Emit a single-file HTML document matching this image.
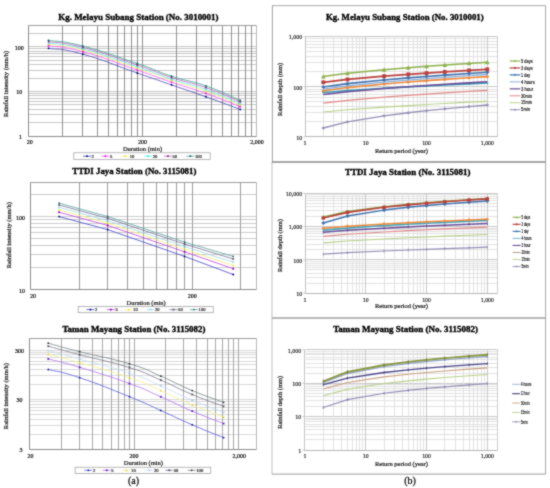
<!DOCTYPE html>
<html><head><meta charset="utf-8"><title>IDF curves</title>
<style>html,body{margin:0;padding:0;background:#fff;width:550px;height:488px;overflow:hidden}svg{display:block}</style>
</head><body><div id="w">
<svg width="550" height="488" viewBox="0 0 550 488">
<defs><filter id="bl" filterUnits="userSpaceOnUse" x="0" y="0" width="550" height="488" color-interpolation-filters="sRGB"><feConvolveMatrix order="3" kernelMatrix="1 2 1 2 12 2 1 2 1" divisor="24" edgeMode="duplicate"/></filter></defs>
<g filter="url(#bl)">
<rect x="0" y="0" width="550" height="488" fill="#ffffff"/>
<line x1="28.5" y1="122.5" x2="256.5" y2="122.5" stroke="#c8c8c8" stroke-width="1" />
<line x1="28.5" y1="114.5" x2="256.5" y2="114.5" stroke="#c8c8c8" stroke-width="1" />
<line x1="28.5" y1="109.5" x2="256.5" y2="109.5" stroke="#c8c8c8" stroke-width="1" />
<line x1="28.5" y1="104.5" x2="256.5" y2="104.5" stroke="#c8c8c8" stroke-width="1" />
<line x1="28.5" y1="101.5" x2="256.5" y2="101.5" stroke="#c8c8c8" stroke-width="1" />
<line x1="28.5" y1="98.5" x2="256.5" y2="98.5" stroke="#c8c8c8" stroke-width="1" />
<line x1="28.5" y1="95.5" x2="256.5" y2="95.5" stroke="#c8c8c8" stroke-width="1" />
<line x1="28.5" y1="93.5" x2="256.5" y2="93.5" stroke="#c8c8c8" stroke-width="1" />
<line x1="28.5" y1="91.5" x2="256.5" y2="91.5" stroke="#c8c8c8" stroke-width="1" />
<line x1="28.5" y1="78.5" x2="256.5" y2="78.5" stroke="#c8c8c8" stroke-width="1" />
<line x1="28.5" y1="70.5" x2="256.5" y2="70.5" stroke="#c8c8c8" stroke-width="1" />
<line x1="28.5" y1="64.5" x2="256.5" y2="64.5" stroke="#c8c8c8" stroke-width="1" />
<line x1="28.5" y1="60.5" x2="256.5" y2="60.5" stroke="#c8c8c8" stroke-width="1" />
<line x1="28.5" y1="56.5" x2="256.5" y2="56.5" stroke="#c8c8c8" stroke-width="1" />
<line x1="28.5" y1="53.5" x2="256.5" y2="53.5" stroke="#c8c8c8" stroke-width="1" />
<line x1="28.5" y1="51.5" x2="256.5" y2="51.5" stroke="#c8c8c8" stroke-width="1" />
<line x1="28.5" y1="48.5" x2="256.5" y2="48.5" stroke="#c8c8c8" stroke-width="1" />
<line x1="28.5" y1="46.5" x2="256.5" y2="46.5" stroke="#c8c8c8" stroke-width="1" />
<line x1="28.5" y1="33.5" x2="256.5" y2="33.5" stroke="#c8c8c8" stroke-width="1" />
<line x1="62.5" y1="25.5" x2="62.5" y2="136.5" stroke="#909090" stroke-width="1" />
<line x1="82.5" y1="25.5" x2="82.5" y2="136.5" stroke="#909090" stroke-width="1" />
<line x1="97.5" y1="25.5" x2="97.5" y2="136.5" stroke="#909090" stroke-width="1" />
<line x1="108.5" y1="25.5" x2="108.5" y2="136.5" stroke="#909090" stroke-width="1" />
<line x1="117.5" y1="25.5" x2="117.5" y2="136.5" stroke="#909090" stroke-width="1" />
<line x1="124.5" y1="25.5" x2="124.5" y2="136.5" stroke="#909090" stroke-width="1" />
<line x1="131.5" y1="25.5" x2="131.5" y2="136.5" stroke="#909090" stroke-width="1" />
<line x1="137.5" y1="25.5" x2="137.5" y2="136.5" stroke="#909090" stroke-width="1" />
<line x1="142.5" y1="25.5" x2="142.5" y2="136.5" stroke="#909090" stroke-width="1" />
<line x1="176.5" y1="25.5" x2="176.5" y2="136.5" stroke="#909090" stroke-width="1" />
<line x1="196.5" y1="25.5" x2="196.5" y2="136.5" stroke="#909090" stroke-width="1" />
<line x1="211.5" y1="25.5" x2="211.5" y2="136.5" stroke="#909090" stroke-width="1" />
<line x1="222.5" y1="25.5" x2="222.5" y2="136.5" stroke="#909090" stroke-width="1" />
<line x1="231.5" y1="25.5" x2="231.5" y2="136.5" stroke="#909090" stroke-width="1" />
<line x1="238.5" y1="25.5" x2="238.5" y2="136.5" stroke="#909090" stroke-width="1" />
<line x1="245.5" y1="25.5" x2="245.5" y2="136.5" stroke="#909090" stroke-width="1" />
<line x1="251.5" y1="25.5" x2="251.5" y2="136.5" stroke="#909090" stroke-width="1" />
<line x1="28.5" y1="25.5" x2="256.5" y2="25.5" stroke="#9c9c9c" stroke-width="1" />
<line x1="256.5" y1="25.5" x2="256.5" y2="136.5" stroke="#b8b8b8" stroke-width="1" />
<line x1="28.5" y1="25.5" x2="28.5" y2="136.5" stroke="#8c8c8c" stroke-width="1" />
<line x1="28.5" y1="136.5" x2="256.5" y2="136.5" stroke="#8c8c8c" stroke-width="1" />
<text x="19.35" y="49.5" font-size="6" text-anchor="middle" font-weight="normal" fill="#111" font-family="'Liberation Serif', serif" stroke="#111" stroke-width="0.22">100</text>
<text x="19.35" y="94.4" font-size="6" text-anchor="middle" font-weight="normal" fill="#111" font-family="'Liberation Serif', serif" stroke="#111" stroke-width="0.22">10</text>
<text x="20.4" y="139.2" font-size="6" text-anchor="middle" font-weight="normal" fill="#111" font-family="'Liberation Serif', serif" stroke="#111" stroke-width="0.22">1</text>
<text x="29.75" y="144.1" font-size="6" text-anchor="middle" font-weight="normal" fill="#111" font-family="'Liberation Serif', serif" stroke="#111" stroke-width="0.22">20</text>
<text x="142.6" y="143.9" font-size="6" text-anchor="middle" font-weight="normal" fill="#111" font-family="'Liberation Serif', serif" stroke="#111" stroke-width="0.22">200</text>
<text x="257" y="144.1" font-size="6" text-anchor="middle" font-weight="normal" fill="#111" font-family="'Liberation Serif', serif" stroke="#111" stroke-width="0.22">2,000</text>
<text x="142.5" y="150.6" font-size="6.5" text-anchor="middle" font-weight="normal" fill="#222" font-family="'Liberation Serif', serif"  stroke="#222" stroke-width="0.22">Duration (min)</text>
<text x="8.1" y="83.9" font-size="6.5" text-anchor="middle" font-weight="normal" fill="#222" font-family="'Liberation Serif', serif" transform="rotate(-90 8.1 83.9)" stroke="#222" stroke-width="0.22">Rainfall intensity (mm/h)</text>
<text x="138.4" y="20.2" font-size="9" text-anchor="middle" font-weight="bold" fill="#000" font-family="'Liberation Serif', serif"  stroke="#000" stroke-width="0.35" textLength="160.3" lengthAdjust="spacingAndGlyphs">Kg. Melayu Subang Station (No. 3010001)</text>
<path d="M48.57,48.3 C57.73,49.87 59.24,47.61 82.89,54.2 C106.55,60.79 113.63,64.81 137.28,73 C160.94,81.19 153.3,78.55 171.6,84.9 C189.9,91.25 187.62,90.27 205.92,96.8 C224.22,103.33 231.08,106.04 240.24,109.4" fill="none" stroke="#4848b8" stroke-width="0.8"/>
<path d="M48.57,47.13 L49.74,48.3 L48.57,49.47 L47.4,48.3Z" fill="#000080"/>
<path d="M82.89,53.03 L84.06,54.2 L82.89,55.37 L81.72,54.2Z" fill="#000080"/>
<path d="M137.28,71.83 L138.45,73 L137.28,74.17 L136.11,73Z" fill="#000080"/>
<path d="M171.6,83.73 L172.77,84.9 L171.6,86.07 L170.43,84.9Z" fill="#000080"/>
<path d="M205.92,95.63 L207.09,96.8 L205.92,97.97 L204.75,96.8Z" fill="#000080"/>
<path d="M240.24,108.23 L241.41,109.4 L240.24,110.57 L239.07,109.4Z" fill="#000080"/>
<path d="M48.57,45.85 C57.73,47.41 59.24,45.23 82.89,51.69 C106.55,58.14 113.63,61.92 137.28,70.06 C160.94,78.19 153.3,75.97 171.6,82.2 C189.9,88.43 187.62,86.92 205.92,93.42 C224.22,99.92 231.08,103.07 240.24,106.58" fill="none" stroke="#ff58ff" stroke-width="0.8"/>
<rect x="47.67" y="44.95" width="1.8" height="1.8" fill="#ff00ff"/>
<rect x="81.99" y="50.79" width="1.8" height="1.8" fill="#ff00ff"/>
<rect x="136.38" y="69.16" width="1.8" height="1.8" fill="#ff00ff"/>
<rect x="170.7" y="81.3" width="1.8" height="1.8" fill="#ff00ff"/>
<rect x="205.02" y="92.52" width="1.8" height="1.8" fill="#ff00ff"/>
<rect x="239.34" y="105.68" width="1.8" height="1.8" fill="#ff00ff"/>
<path d="M48.57,44.35 C57.73,45.9 59.24,43.78 82.89,50.15 C106.55,56.52 113.63,60.14 137.28,68.25 C160.94,76.36 153.3,74.39 171.6,80.55 C189.9,86.71 187.62,84.87 205.92,91.35 C224.22,97.83 231.08,101.25 240.24,104.85" fill="none" stroke="#f2f080" stroke-width="0.8"/>
<path d="M48.57,43.18 L49.65,45.25 L47.49,45.25Z" fill="#e8e000"/>
<path d="M82.89,48.98 L83.97,51.05 L81.81,51.05Z" fill="#e8e000"/>
<path d="M137.28,67.08 L138.36,69.15 L136.2,69.15Z" fill="#e8e000"/>
<path d="M171.6,79.38 L172.68,81.45 L170.52,81.45Z" fill="#e8e000"/>
<path d="M205.92,90.18 L207,92.25 L204.84,92.25Z" fill="#e8e000"/>
<path d="M240.24,103.68 L241.32,105.75 L239.16,105.75Z" fill="#e8e000"/>
<path d="M48.57,43.09 C57.73,44.62 59.24,42.55 82.89,48.85 C106.55,55.16 113.63,58.65 137.28,66.73 C160.94,74.81 153.3,73.06 171.6,79.16 C189.9,85.26 187.62,83.14 205.92,89.61 C224.22,96.07 231.08,99.72 240.24,103.39" fill="none" stroke="#68f0e8" stroke-width="0.8"/>
<path d="M47.67,42.19 L49.47,43.99 M47.67,43.99 L49.47,42.19" stroke="#00e0e0" stroke-width="0.6"/>
<path d="M81.99,47.95 L83.79,49.75 M81.99,49.75 L83.79,47.95" stroke="#00e0e0" stroke-width="0.6"/>
<path d="M136.38,65.83 L138.18,67.63 M136.38,67.63 L138.18,65.83" stroke="#00e0e0" stroke-width="0.6"/>
<path d="M170.7,78.26 L172.5,80.06 M170.7,80.06 L172.5,78.26" stroke="#00e0e0" stroke-width="0.6"/>
<path d="M205.02,88.71 L206.82,90.51 M205.02,90.51 L206.82,88.71" stroke="#00e0e0" stroke-width="0.6"/>
<path d="M239.34,102.49 L241.14,104.29 M239.34,104.29 L241.14,102.49" stroke="#00e0e0" stroke-width="0.6"/>
<path d="M48.57,41.66 C57.73,43.19 59.24,41.17 82.89,47.4 C106.55,53.62 113.63,56.97 137.28,65.02 C160.94,73.07 153.3,71.56 171.6,77.59 C189.9,83.63 187.62,81.2 205.92,87.64 C224.22,94.09 231.08,97.99 240.24,101.76" fill="none" stroke="#c060c0" stroke-width="0.8"/>
<path d="M47.67,40.76 L49.47,42.56 M47.67,42.56 L49.47,40.76 M48.57,40.76 L48.57,42.56" stroke="#800080" stroke-width="0.6"/>
<path d="M81.99,46.5 L83.79,48.3 M81.99,48.3 L83.79,46.5 M82.89,46.5 L82.89,48.3" stroke="#800080" stroke-width="0.6"/>
<path d="M136.38,64.12 L138.18,65.92 M136.38,65.92 L138.18,64.12 M137.28,64.12 L137.28,65.92" stroke="#800080" stroke-width="0.6"/>
<path d="M170.7,76.69 L172.5,78.49 M170.7,78.49 L172.5,76.69 M171.6,76.69 L171.6,78.49" stroke="#800080" stroke-width="0.6"/>
<path d="M205.02,86.74 L206.82,88.54 M205.02,88.54 L206.82,86.74 M205.92,86.74 L205.92,88.54" stroke="#800080" stroke-width="0.6"/>
<path d="M239.34,100.86 L241.14,102.66 M239.34,102.66 L241.14,100.86 M240.24,100.86 L240.24,102.66" stroke="#800080" stroke-width="0.6"/>
<path d="M48.57,40.4 C57.73,41.92 59.24,39.94 82.89,46.1 C106.55,52.26 113.63,55.47 137.28,63.5 C160.94,71.53 153.3,70.23 171.6,76.2 C189.9,82.17 187.62,79.47 205.92,85.9 C224.22,92.33 231.08,96.46 240.24,100.3" fill="none" stroke="#40a090" stroke-width="0.8"/>
<circle cx="48.57" cy="40.4" r="0.9" fill="#006060"/>
<circle cx="82.89" cy="46.1" r="0.9" fill="#006060"/>
<circle cx="137.28" cy="63.5" r="0.9" fill="#006060"/>
<circle cx="171.6" cy="76.2" r="0.9" fill="#006060"/>
<circle cx="205.92" cy="85.9" r="0.9" fill="#006060"/>
<circle cx="240.24" cy="100.3" r="0.9" fill="#006060"/>
<rect x="73.8" y="152.8" width="136.4" height="6.8" fill="#fff" stroke="#9a9a9a" stroke-width="0.7"/>
<line x1="83" y1="156.2" x2="91" y2="156.2" stroke="#4848b8" stroke-width="0.8" />
<path d="M87,155.03 L88.17,156.2 L87,157.37 L85.83,156.2Z" fill="#000080"/>
<text x="91.6" y="157.8" font-size="4.6" text-anchor="start" font-weight="normal" fill="#333" font-family="'Liberation Serif', serif"  stroke="#333" stroke-width="0.22">2</text>
<line x1="101.4" y1="156.2" x2="109.4" y2="156.2" stroke="#ff58ff" stroke-width="0.8" />
<rect x="104.5" y="155.3" width="1.8" height="1.8" fill="#ff00ff"/>
<text x="110" y="157.8" font-size="4.6" text-anchor="start" font-weight="normal" fill="#333" font-family="'Liberation Serif', serif"  stroke="#333" stroke-width="0.22">5</text>
<line x1="121.2" y1="156.2" x2="129.2" y2="156.2" stroke="#f2f080" stroke-width="0.8" />
<path d="M125.2,155.03 L126.28,157.1 L124.12,157.1Z" fill="#e8e000"/>
<text x="129.8" y="157.8" font-size="4.6" text-anchor="start" font-weight="normal" fill="#333" font-family="'Liberation Serif', serif"  stroke="#333" stroke-width="0.22">10</text>
<line x1="144.1" y1="156.2" x2="152.1" y2="156.2" stroke="#68f0e8" stroke-width="0.8" />
<path d="M147.2,155.3 L149,157.1 M147.2,157.1 L149,155.3" stroke="#00e0e0" stroke-width="0.6"/>
<text x="152.7" y="157.8" font-size="4.6" text-anchor="start" font-weight="normal" fill="#333" font-family="'Liberation Serif', serif"  stroke="#333" stroke-width="0.22">20</text>
<line x1="163.9" y1="156.2" x2="171.9" y2="156.2" stroke="#c060c0" stroke-width="0.8" />
<path d="M167,155.3 L168.8,157.1 M167,157.1 L168.8,155.3 M167.9,155.3 L167.9,157.1" stroke="#800080" stroke-width="0.6"/>
<text x="172.5" y="157.8" font-size="4.6" text-anchor="start" font-weight="normal" fill="#333" font-family="'Liberation Serif', serif"  stroke="#333" stroke-width="0.22">50</text>
<line x1="186.4" y1="156.2" x2="194.4" y2="156.2" stroke="#40a090" stroke-width="0.8" />
<circle cx="190.4" cy="156.2" r="0.9" fill="#006060"/>
<text x="195" y="157.8" font-size="4.6" text-anchor="start" font-weight="normal" fill="#333" font-family="'Liberation Serif', serif"  stroke="#333" stroke-width="0.22">100</text>
<line x1="30.5" y1="267.5" x2="256.5" y2="267.5" stroke="#cccccc" stroke-width="1" />
<line x1="30.5" y1="254.5" x2="256.5" y2="254.5" stroke="#cccccc" stroke-width="1" />
<line x1="30.5" y1="245.5" x2="256.5" y2="245.5" stroke="#cccccc" stroke-width="1" />
<line x1="30.5" y1="238.5" x2="256.5" y2="238.5" stroke="#cccccc" stroke-width="1" />
<line x1="30.5" y1="232.5" x2="256.5" y2="232.5" stroke="#cccccc" stroke-width="1" />
<line x1="30.5" y1="227.5" x2="256.5" y2="227.5" stroke="#cccccc" stroke-width="1" />
<line x1="30.5" y1="223.5" x2="256.5" y2="223.5" stroke="#cccccc" stroke-width="1" />
<line x1="30.5" y1="219.5" x2="256.5" y2="219.5" stroke="#cccccc" stroke-width="1" />
<line x1="30.5" y1="216.5" x2="256.5" y2="216.5" stroke="#cccccc" stroke-width="1" />
<line x1="30.5" y1="194.5" x2="256.5" y2="194.5" stroke="#cccccc" stroke-width="1" />
<line x1="79.5" y1="182.5" x2="79.5" y2="289.5" stroke="#9c9c9c" stroke-width="1" />
<line x1="107.5" y1="182.5" x2="107.5" y2="289.5" stroke="#9c9c9c" stroke-width="1" />
<line x1="127.5" y1="182.5" x2="127.5" y2="289.5" stroke="#9c9c9c" stroke-width="1" />
<line x1="143.5" y1="182.5" x2="143.5" y2="289.5" stroke="#9c9c9c" stroke-width="1" />
<line x1="156.5" y1="182.5" x2="156.5" y2="289.5" stroke="#9c9c9c" stroke-width="1" />
<line x1="167.5" y1="182.5" x2="167.5" y2="289.5" stroke="#9c9c9c" stroke-width="1" />
<line x1="176.5" y1="182.5" x2="176.5" y2="289.5" stroke="#9c9c9c" stroke-width="1" />
<line x1="184.5" y1="182.5" x2="184.5" y2="289.5" stroke="#9c9c9c" stroke-width="1" />
<line x1="192.5" y1="182.5" x2="192.5" y2="289.5" stroke="#9c9c9c" stroke-width="1" />
<line x1="240.5" y1="182.5" x2="240.5" y2="289.5" stroke="#9c9c9c" stroke-width="1" />
<line x1="30.5" y1="182.5" x2="256.5" y2="182.5" stroke="#9c9c9c" stroke-width="1" />
<line x1="256.5" y1="182.5" x2="256.5" y2="289.5" stroke="#b8b8b8" stroke-width="1" />
<line x1="30.5" y1="182.5" x2="30.5" y2="289.5" stroke="#8c8c8c" stroke-width="1" />
<line x1="30.5" y1="289.5" x2="256.5" y2="289.5" stroke="#8c8c8c" stroke-width="1" />
<text x="20.5" y="219.9" font-size="6" text-anchor="middle" font-weight="normal" fill="#111" font-family="'Liberation Serif', serif" stroke="#111" stroke-width="0.22">100</text>
<text x="22.1" y="292.6" font-size="6" text-anchor="middle" font-weight="normal" fill="#111" font-family="'Liberation Serif', serif" stroke="#111" stroke-width="0.22">10</text>
<text x="32.9" y="297.5" font-size="6" text-anchor="middle" font-weight="normal" fill="#111" font-family="'Liberation Serif', serif" stroke="#111" stroke-width="0.22">20</text>
<text x="192.2" y="297.8" font-size="6" text-anchor="middle" font-weight="normal" fill="#111" font-family="'Liberation Serif', serif" stroke="#111" stroke-width="0.22">200</text>
<text x="146.15" y="304.6" font-size="6.5" text-anchor="middle" font-weight="normal" fill="#222" font-family="'Liberation Serif', serif"  stroke="#222" stroke-width="0.22">Duration (min)</text>
<text x="10.7" y="235.2" font-size="6.5" text-anchor="middle" font-weight="normal" fill="#222" font-family="'Liberation Serif', serif" transform="rotate(-90 10.7 235.2)" stroke="#222" stroke-width="0.22">Rainfall intensity (mm/h)</text>
<text x="134.3" y="174.4" font-size="9" text-anchor="middle" font-weight="bold" fill="#000" font-family="'Liberation Serif', serif"  stroke="#000" stroke-width="0.35" textLength="124.1" lengthAdjust="spacingAndGlyphs">TTDI Jaya Station (No. 3115081)</text>
<polyline points="59.1,216.6 107.66,229.6 184.62,256.4 233.18,274.5" fill="none" stroke="#4040d0" stroke-width="0.8" stroke-linejoin="round" />
<path d="M59.1,215.43 L60.27,216.6 L59.1,217.77 L57.93,216.6Z" fill="#000080"/>
<path d="M107.66,228.43 L108.83,229.6 L107.66,230.77 L106.49,229.6Z" fill="#000080"/>
<path d="M184.62,255.23 L185.79,256.4 L184.62,257.57 L183.45,256.4Z" fill="#000080"/>
<path d="M233.18,273.33 L234.35,274.5 L233.18,275.67 L232.01,274.5Z" fill="#000080"/>
<polyline points="59.1,212.28 107.66,225.41 184.62,251.82 233.18,268.71" fill="none" stroke="#c040e0" stroke-width="0.8" stroke-linejoin="round" />
<rect x="58.2" y="211.38" width="1.8" height="1.8" fill="#a000c0"/>
<rect x="106.76" y="224.51" width="1.8" height="1.8" fill="#a000c0"/>
<rect x="183.72" y="250.92" width="1.8" height="1.8" fill="#a000c0"/>
<rect x="232.28" y="267.81" width="1.8" height="1.8" fill="#a000c0"/>
<polyline points="59.1,209.85 107.66,223.05 184.62,249.25 233.18,265.45" fill="none" stroke="#f4f070" stroke-width="0.8" stroke-linejoin="round" />
<path d="M59.1,208.68 L60.18,210.75 L58.02,210.75Z" fill="#e8e000"/>
<path d="M107.66,221.88 L108.74,223.95 L106.58,223.95Z" fill="#e8e000"/>
<path d="M184.62,248.08 L185.7,250.15 L183.54,250.15Z" fill="#e8e000"/>
<path d="M233.18,264.28 L234.26,266.35 L232.1,266.35Z" fill="#e8e000"/>
<polyline points="59.1,207.42 107.66,220.69 184.62,246.68 233.18,262.19" fill="none" stroke="#a0d8f0" stroke-width="0.8" stroke-linejoin="round" />
<path d="M58.2,206.52 L60,208.32 M58.2,208.32 L60,206.52" stroke="#60c0e0" stroke-width="0.6"/>
<path d="M106.76,219.79 L108.56,221.59 M106.76,221.59 L108.56,219.79" stroke="#60c0e0" stroke-width="0.6"/>
<path d="M183.72,245.78 L185.52,247.58 M183.72,247.58 L185.52,245.78" stroke="#60c0e0" stroke-width="0.6"/>
<path d="M232.28,261.29 L234.08,263.09 M232.28,263.09 L234.08,261.29" stroke="#60c0e0" stroke-width="0.6"/>
<polyline points="59.1,204.99 107.66,218.33 184.62,244.1 233.18,258.93" fill="none" stroke="#707090" stroke-width="0.8" stroke-linejoin="round" />
<path d="M58.2,204.09 L60,205.89 M58.2,205.89 L60,204.09 M59.1,204.09 L59.1,205.89" stroke="#404060" stroke-width="0.6"/>
<path d="M106.76,217.43 L108.56,219.23 M106.76,219.23 L108.56,217.43 M107.66,217.43 L107.66,219.23" stroke="#404060" stroke-width="0.6"/>
<path d="M183.72,243.2 L185.52,245 M183.72,245 L185.52,243.2 M184.62,243.2 L184.62,245" stroke="#404060" stroke-width="0.6"/>
<path d="M232.28,258.03 L234.08,259.83 M232.28,259.83 L234.08,258.03 M233.18,258.03 L233.18,259.83" stroke="#404060" stroke-width="0.6"/>
<polyline points="59.1,203.1 107.66,216.5 184.62,242.1 233.18,256.4" fill="none" stroke="#60a0a0" stroke-width="0.8" stroke-linejoin="round" />
<circle cx="59.1" cy="203.1" r="0.9" fill="#306060"/>
<circle cx="107.66" cy="216.5" r="0.9" fill="#306060"/>
<circle cx="184.62" cy="242.1" r="0.9" fill="#306060"/>
<circle cx="233.18" cy="256.4" r="0.9" fill="#306060"/>
<rect x="78.2" y="306.5" width="135" height="6.2" fill="#fff" stroke="#9a9a9a" stroke-width="0.7"/>
<line x1="86.4" y1="309.6" x2="94.4" y2="309.6" stroke="#4040d0" stroke-width="0.8" />
<path d="M90.4,308.43 L91.57,309.6 L90.4,310.77 L89.23,309.6Z" fill="#000080"/>
<text x="95" y="311.2" font-size="4.6" text-anchor="start" font-weight="normal" fill="#333" font-family="'Liberation Serif', serif"  stroke="#333" stroke-width="0.22">2</text>
<line x1="106.8" y1="309.6" x2="114.8" y2="309.6" stroke="#c040e0" stroke-width="0.8" />
<rect x="109.9" y="308.7" width="1.8" height="1.8" fill="#a000c0"/>
<text x="115.4" y="311.2" font-size="4.6" text-anchor="start" font-weight="normal" fill="#333" font-family="'Liberation Serif', serif"  stroke="#333" stroke-width="0.22">5</text>
<line x1="124.5" y1="309.6" x2="132.5" y2="309.6" stroke="#f4f070" stroke-width="0.8" />
<path d="M128.5,308.43 L129.58,310.5 L127.42,310.5Z" fill="#e8e000"/>
<text x="133.1" y="311.2" font-size="4.6" text-anchor="start" font-weight="normal" fill="#333" font-family="'Liberation Serif', serif"  stroke="#333" stroke-width="0.22">10</text>
<line x1="146.4" y1="309.6" x2="154.4" y2="309.6" stroke="#a0d8f0" stroke-width="0.8" />
<path d="M149.5,308.7 L151.3,310.5 M149.5,310.5 L151.3,308.7" stroke="#60c0e0" stroke-width="0.6"/>
<text x="155" y="311.2" font-size="4.6" text-anchor="start" font-weight="normal" fill="#333" font-family="'Liberation Serif', serif"  stroke="#333" stroke-width="0.22">20</text>
<line x1="169.5" y1="309.6" x2="177.5" y2="309.6" stroke="#707090" stroke-width="0.8" />
<path d="M172.6,308.7 L174.4,310.5 M172.6,310.5 L174.4,308.7 M173.5,308.7 L173.5,310.5" stroke="#404060" stroke-width="0.6"/>
<text x="178.1" y="311.2" font-size="4.6" text-anchor="start" font-weight="normal" fill="#333" font-family="'Liberation Serif', serif"  stroke="#333" stroke-width="0.22">50</text>
<line x1="190" y1="309.6" x2="198" y2="309.6" stroke="#60a0a0" stroke-width="0.8" />
<circle cx="194" cy="309.6" r="0.9" fill="#306060"/>
<text x="198.6" y="311.2" font-size="4.6" text-anchor="start" font-weight="normal" fill="#333" font-family="'Liberation Serif', serif"  stroke="#333" stroke-width="0.22">100</text>
<line x1="29.5" y1="434.5" x2="256.5" y2="434.5" stroke="#d8d8d8" stroke-width="1" />
<line x1="29.5" y1="425.5" x2="256.5" y2="425.5" stroke="#d8d8d8" stroke-width="1" />
<line x1="29.5" y1="419.5" x2="256.5" y2="419.5" stroke="#d8d8d8" stroke-width="1" />
<line x1="29.5" y1="414.5" x2="256.5" y2="414.5" stroke="#d8d8d8" stroke-width="1" />
<line x1="29.5" y1="410.5" x2="256.5" y2="410.5" stroke="#d8d8d8" stroke-width="1" />
<line x1="29.5" y1="407.5" x2="256.5" y2="407.5" stroke="#d8d8d8" stroke-width="1" />
<line x1="29.5" y1="404.5" x2="256.5" y2="404.5" stroke="#d8d8d8" stroke-width="1" />
<line x1="29.5" y1="401.5" x2="256.5" y2="401.5" stroke="#d8d8d8" stroke-width="1" />
<line x1="29.5" y1="399.5" x2="256.5" y2="399.5" stroke="#d8d8d8" stroke-width="1" />
<line x1="29.5" y1="384.5" x2="256.5" y2="384.5" stroke="#d8d8d8" stroke-width="1" />
<line x1="29.5" y1="375.5" x2="256.5" y2="375.5" stroke="#d8d8d8" stroke-width="1" />
<line x1="29.5" y1="369.5" x2="256.5" y2="369.5" stroke="#d8d8d8" stroke-width="1" />
<line x1="29.5" y1="364.5" x2="256.5" y2="364.5" stroke="#d8d8d8" stroke-width="1" />
<line x1="29.5" y1="361.5" x2="256.5" y2="361.5" stroke="#d8d8d8" stroke-width="1" />
<line x1="29.5" y1="357.5" x2="256.5" y2="357.5" stroke="#d8d8d8" stroke-width="1" />
<line x1="29.5" y1="354.5" x2="256.5" y2="354.5" stroke="#d8d8d8" stroke-width="1" />
<line x1="29.5" y1="352.5" x2="256.5" y2="352.5" stroke="#d8d8d8" stroke-width="1" />
<line x1="29.5" y1="350.5" x2="256.5" y2="350.5" stroke="#d8d8d8" stroke-width="1" />
<line x1="61.5" y1="338.5" x2="61.5" y2="449.5" stroke="#a8a8a8" stroke-width="1" />
<line x1="79.5" y1="338.5" x2="79.5" y2="449.5" stroke="#a8a8a8" stroke-width="1" />
<line x1="92.5" y1="338.5" x2="92.5" y2="449.5" stroke="#a8a8a8" stroke-width="1" />
<line x1="102.5" y1="338.5" x2="102.5" y2="449.5" stroke="#a8a8a8" stroke-width="1" />
<line x1="111.5" y1="338.5" x2="111.5" y2="449.5" stroke="#a8a8a8" stroke-width="1" />
<line x1="118.5" y1="338.5" x2="118.5" y2="449.5" stroke="#a8a8a8" stroke-width="1" />
<line x1="124.5" y1="338.5" x2="124.5" y2="449.5" stroke="#a8a8a8" stroke-width="1" />
<line x1="129.5" y1="338.5" x2="129.5" y2="449.5" stroke="#a8a8a8" stroke-width="1" />
<line x1="134.5" y1="338.5" x2="134.5" y2="449.5" stroke="#a8a8a8" stroke-width="1" />
<line x1="165.5" y1="338.5" x2="165.5" y2="449.5" stroke="#a8a8a8" stroke-width="1" />
<line x1="183.5" y1="338.5" x2="183.5" y2="449.5" stroke="#a8a8a8" stroke-width="1" />
<line x1="196.5" y1="338.5" x2="196.5" y2="449.5" stroke="#a8a8a8" stroke-width="1" />
<line x1="207.5" y1="338.5" x2="207.5" y2="449.5" stroke="#a8a8a8" stroke-width="1" />
<line x1="215.5" y1="338.5" x2="215.5" y2="449.5" stroke="#a8a8a8" stroke-width="1" />
<line x1="222.5" y1="338.5" x2="222.5" y2="449.5" stroke="#a8a8a8" stroke-width="1" />
<line x1="228.5" y1="338.5" x2="228.5" y2="449.5" stroke="#a8a8a8" stroke-width="1" />
<line x1="233.5" y1="338.5" x2="233.5" y2="449.5" stroke="#a8a8a8" stroke-width="1" />
<line x1="238.5" y1="338.5" x2="238.5" y2="449.5" stroke="#a8a8a8" stroke-width="1" />
<line x1="29.5" y1="338.5" x2="256.5" y2="338.5" stroke="#9c9c9c" stroke-width="1" />
<line x1="256.5" y1="338.5" x2="256.5" y2="449.5" stroke="#b8b8b8" stroke-width="1" />
<line x1="29.5" y1="338.5" x2="29.5" y2="449.5" stroke="#8c8c8c" stroke-width="1" />
<line x1="29.5" y1="449.5" x2="256.5" y2="449.5" stroke="#8c8c8c" stroke-width="1" />
<text x="19.5" y="353.1" font-size="6" text-anchor="middle" font-weight="normal" fill="#111" font-family="'Liberation Serif', serif" stroke="#111" stroke-width="0.22">300</text>
<text x="19.6" y="402.3" font-size="6" text-anchor="middle" font-weight="normal" fill="#111" font-family="'Liberation Serif', serif" stroke="#111" stroke-width="0.22">30</text>
<text x="20.9" y="451.9" font-size="6" text-anchor="middle" font-weight="normal" fill="#111" font-family="'Liberation Serif', serif" stroke="#111" stroke-width="0.22">3</text>
<text x="30.6" y="457.6" font-size="6" text-anchor="middle" font-weight="normal" fill="#111" font-family="'Liberation Serif', serif" stroke="#111" stroke-width="0.22">20</text>
<text x="134.1" y="457.7" font-size="6" text-anchor="middle" font-weight="normal" fill="#111" font-family="'Liberation Serif', serif" stroke="#111" stroke-width="0.22">200</text>
<text x="239.2" y="457.5" font-size="6" text-anchor="middle" font-weight="normal" fill="#111" font-family="'Liberation Serif', serif" stroke="#111" stroke-width="0.22">2,000</text>
<text x="143.45" y="464.6" font-size="6.5" text-anchor="middle" font-weight="normal" fill="#222" font-family="'Liberation Serif', serif"  stroke="#222" stroke-width="0.22">Duration (min)</text>
<text x="8.5" y="396.1" font-size="6.5" text-anchor="middle" font-weight="normal" fill="#222" font-family="'Liberation Serif', serif" transform="rotate(-90 8.5 396.1)" stroke="#222" stroke-width="0.22">Rainfall intensity (mm/h)</text>
<text x="133.9" y="331.5" font-size="9" text-anchor="middle" font-weight="bold" fill="#000" font-family="'Liberation Serif', serif"  stroke="#000" stroke-width="0.35" textLength="143.0" lengthAdjust="spacingAndGlyphs">Taman Mayang Station (No. 3115082)</text>
<path d="M48.27,369.5 C56.64,371.69 58.02,370.45 79.66,377.7 C101.31,384.95 107.78,387.95 129.43,396.7 C151.07,405.45 144.08,403.01 160.82,410.5 C177.57,417.99 175.48,417.55 192.22,424.8 C208.97,432.05 215.25,434.26 223.62,437.7" fill="none" stroke="#5858e0" stroke-width="0.8"/>
<path d="M48.27,368.33 L49.44,369.5 L48.27,370.67 L47.1,369.5Z" fill="#2020a0"/>
<path d="M79.66,376.53 L80.83,377.7 L79.66,378.87 L78.49,377.7Z" fill="#2020a0"/>
<path d="M129.43,395.53 L130.6,396.7 L129.43,397.87 L128.26,396.7Z" fill="#2020a0"/>
<path d="M160.82,409.33 L161.99,410.5 L160.82,411.67 L159.65,410.5Z" fill="#2020a0"/>
<path d="M192.22,423.63 L193.39,424.8 L192.22,425.97 L191.05,424.8Z" fill="#2020a0"/>
<path d="M223.62,436.53 L224.79,437.7 L223.62,438.87 L222.45,437.7Z" fill="#2020a0"/>
<path d="M48.27,358.98 C56.64,361.2 58.02,360.75 79.66,367.3 C101.31,373.85 107.78,375.68 129.43,383.54 C151.07,391.4 144.08,389.43 160.82,396.78 C177.57,404.13 175.48,403.98 192.22,411.12 C208.97,418.26 215.25,420.23 223.62,423.54" fill="none" stroke="#b070f0" stroke-width="0.8"/>
<rect x="47.37" y="358.08" width="1.8" height="1.8" fill="#6020c0"/>
<rect x="78.76" y="366.4" width="1.8" height="1.8" fill="#6020c0"/>
<rect x="128.53" y="382.64" width="1.8" height="1.8" fill="#6020c0"/>
<rect x="159.92" y="395.88" width="1.8" height="1.8" fill="#6020c0"/>
<rect x="191.32" y="410.22" width="1.8" height="1.8" fill="#6020c0"/>
<rect x="222.72" y="422.64" width="1.8" height="1.8" fill="#6020c0"/>
<path d="M48.27,354.25 C56.64,356.48 58.02,356.39 79.66,362.62 C101.31,368.85 107.78,370.16 129.43,377.62 C151.07,385.08 144.08,383.31 160.82,390.61 C177.57,397.9 175.48,397.88 192.22,404.96 C208.97,412.05 215.25,413.91 223.62,417.17" fill="none" stroke="#f0f090" stroke-width="0.8"/>
<path d="M48.27,353.08 L49.35,355.15 L47.19,355.15Z" fill="#d8d000"/>
<path d="M79.66,361.45 L80.74,363.52 L78.58,363.52Z" fill="#d8d000"/>
<path d="M129.43,376.45 L130.51,378.52 L128.35,378.52Z" fill="#d8d000"/>
<path d="M160.82,389.44 L161.9,391.51 L159.74,391.51Z" fill="#d8d000"/>
<path d="M192.22,403.79 L193.3,405.86 L191.14,405.86Z" fill="#d8d000"/>
<path d="M223.62,416 L224.7,418.07 L222.54,418.07Z" fill="#d8d000"/>
<path d="M48.27,350.56 C56.64,352.81 58.02,352.99 79.66,358.98 C101.31,364.97 107.78,365.86 129.43,373.01 C151.07,380.17 144.08,378.56 160.82,385.8 C177.57,393.05 175.48,393.13 192.22,400.18 C208.97,407.22 215.25,409 223.62,412.21" fill="none" stroke="#c4dcf4" stroke-width="0.8"/>
<path d="M47.37,349.66 L49.17,351.46 M47.37,351.46 L49.17,349.66" stroke="#90b0e0" stroke-width="0.6"/>
<path d="M78.76,358.08 L80.56,359.88 M78.76,359.88 L80.56,358.08" stroke="#90b0e0" stroke-width="0.6"/>
<path d="M128.53,372.11 L130.33,373.91 M128.53,373.91 L130.33,372.11" stroke="#90b0e0" stroke-width="0.6"/>
<path d="M159.92,384.9 L161.72,386.7 M159.92,386.7 L161.72,384.9" stroke="#90b0e0" stroke-width="0.6"/>
<path d="M191.32,399.28 L193.12,401.08 M191.32,401.08 L193.12,399.28" stroke="#90b0e0" stroke-width="0.6"/>
<path d="M222.72,411.31 L224.52,413.11 M222.72,413.11 L224.52,411.31" stroke="#90b0e0" stroke-width="0.6"/>
<path d="M48.27,346.22 C56.64,348.48 58.02,348.99 79.66,354.69 C101.31,360.39 107.78,360.8 129.43,367.58 C151.07,374.37 144.08,372.96 160.82,380.14 C177.57,387.33 175.48,387.54 192.22,394.53 C208.97,401.53 215.25,403.21 223.62,406.37" fill="none" stroke="#787890" stroke-width="0.8"/>
<path d="M47.37,345.32 L49.17,347.12 M47.37,347.12 L49.17,345.32 M48.27,345.32 L48.27,347.12" stroke="#303040" stroke-width="0.6"/>
<path d="M78.76,353.79 L80.56,355.59 M78.76,355.59 L80.56,353.79 M79.66,353.79 L79.66,355.59" stroke="#303040" stroke-width="0.6"/>
<path d="M128.53,366.68 L130.33,368.48 M128.53,368.48 L130.33,366.68 M129.43,366.68 L129.43,368.48" stroke="#303040" stroke-width="0.6"/>
<path d="M159.92,379.24 L161.72,381.04 M159.92,381.04 L161.72,379.24 M160.82,379.24 L160.82,381.04" stroke="#303040" stroke-width="0.6"/>
<path d="M191.32,393.63 L193.12,395.43 M191.32,395.43 L193.12,393.63 M192.22,393.63 L192.22,395.43" stroke="#303040" stroke-width="0.6"/>
<path d="M222.72,405.47 L224.52,407.27 M222.72,407.27 L224.52,405.47 M223.62,405.47 L223.62,407.27" stroke="#303040" stroke-width="0.6"/>
<path d="M48.27,343.2 C56.64,345.47 58.02,346.21 79.66,351.7 C101.31,357.19 107.78,357.27 129.43,363.8 C151.07,370.33 144.08,369.05 160.82,376.2 C177.57,383.35 175.48,383.64 192.22,390.6 C208.97,397.56 215.25,399.18 223.62,402.3" fill="none" stroke="#708080" stroke-width="0.8"/>
<circle cx="48.27" cy="343.2" r="0.9" fill="#303030"/>
<circle cx="79.66" cy="351.7" r="0.9" fill="#303030"/>
<circle cx="129.43" cy="363.8" r="0.9" fill="#303030"/>
<circle cx="160.82" cy="376.2" r="0.9" fill="#303030"/>
<circle cx="192.22" cy="390.6" r="0.9" fill="#303030"/>
<circle cx="223.62" cy="402.3" r="0.9" fill="#303030"/>
<rect x="75.1" y="467.2" width="135.7" height="6.2" fill="#fff" stroke="#9a9a9a" stroke-width="0.7"/>
<line x1="84.3" y1="470.3" x2="92.3" y2="470.3" stroke="#5858e0" stroke-width="0.8" />
<path d="M88.3,469.13 L89.47,470.3 L88.3,471.47 L87.13,470.3Z" fill="#2020a0"/>
<text x="92.9" y="471.9" font-size="4.6" text-anchor="start" font-weight="normal" fill="#333" font-family="'Liberation Serif', serif"  stroke="#333" stroke-width="0.22">2</text>
<line x1="102.7" y1="470.3" x2="110.7" y2="470.3" stroke="#b070f0" stroke-width="0.8" />
<rect x="105.8" y="469.4" width="1.8" height="1.8" fill="#6020c0"/>
<text x="111.3" y="471.9" font-size="4.6" text-anchor="start" font-weight="normal" fill="#333" font-family="'Liberation Serif', serif"  stroke="#333" stroke-width="0.22">5</text>
<line x1="122.5" y1="470.3" x2="130.5" y2="470.3" stroke="#f0f090" stroke-width="0.8" />
<path d="M126.5,469.13 L127.58,471.2 L125.42,471.2Z" fill="#d8d000"/>
<text x="131.1" y="471.9" font-size="4.6" text-anchor="start" font-weight="normal" fill="#333" font-family="'Liberation Serif', serif"  stroke="#333" stroke-width="0.22">10</text>
<line x1="145.4" y1="470.3" x2="153.4" y2="470.3" stroke="#c4dcf4" stroke-width="0.8" />
<path d="M148.5,469.4 L150.3,471.2 M148.5,471.2 L150.3,469.4" stroke="#90b0e0" stroke-width="0.6"/>
<text x="154" y="471.9" font-size="4.6" text-anchor="start" font-weight="normal" fill="#333" font-family="'Liberation Serif', serif"  stroke="#333" stroke-width="0.22">20</text>
<line x1="165.2" y1="470.3" x2="173.2" y2="470.3" stroke="#787890" stroke-width="0.8" />
<path d="M168.3,469.4 L170.1,471.2 M168.3,471.2 L170.1,469.4 M169.2,469.4 L169.2,471.2" stroke="#303040" stroke-width="0.6"/>
<text x="173.8" y="471.9" font-size="4.6" text-anchor="start" font-weight="normal" fill="#333" font-family="'Liberation Serif', serif"  stroke="#333" stroke-width="0.22">50</text>
<line x1="187.7" y1="470.3" x2="195.7" y2="470.3" stroke="#708080" stroke-width="0.8" />
<circle cx="191.7" cy="470.3" r="0.9" fill="#303030"/>
<text x="196.3" y="471.9" font-size="4.6" text-anchor="start" font-weight="normal" fill="#333" font-family="'Liberation Serif', serif"  stroke="#333" stroke-width="0.22">100</text>
<line x1="305.5" y1="136.5" x2="497.5" y2="136.5" stroke="#c8c8c8" stroke-width="1" />
<line x1="305.5" y1="121.5" x2="497.5" y2="121.5" stroke="#e2e2e2" stroke-width="1" />
<line x1="305.5" y1="112.5" x2="497.5" y2="112.5" stroke="#e2e2e2" stroke-width="1" />
<line x1="305.5" y1="106.5" x2="497.5" y2="106.5" stroke="#e2e2e2" stroke-width="1" />
<line x1="305.5" y1="101.5" x2="497.5" y2="101.5" stroke="#e2e2e2" stroke-width="1" />
<line x1="305.5" y1="97.5" x2="497.5" y2="97.5" stroke="#e2e2e2" stroke-width="1" />
<line x1="305.5" y1="94.5" x2="497.5" y2="94.5" stroke="#e2e2e2" stroke-width="1" />
<line x1="305.5" y1="91.5" x2="497.5" y2="91.5" stroke="#e2e2e2" stroke-width="1" />
<line x1="305.5" y1="89.5" x2="497.5" y2="89.5" stroke="#e2e2e2" stroke-width="1" />
<line x1="305.5" y1="86.5" x2="497.5" y2="86.5" stroke="#c8c8c8" stroke-width="1" />
<line x1="305.5" y1="71.5" x2="497.5" y2="71.5" stroke="#e2e2e2" stroke-width="1" />
<line x1="305.5" y1="62.5" x2="497.5" y2="62.5" stroke="#e2e2e2" stroke-width="1" />
<line x1="305.5" y1="56.5" x2="497.5" y2="56.5" stroke="#e2e2e2" stroke-width="1" />
<line x1="305.5" y1="51.5" x2="497.5" y2="51.5" stroke="#e2e2e2" stroke-width="1" />
<line x1="305.5" y1="47.5" x2="497.5" y2="47.5" stroke="#e2e2e2" stroke-width="1" />
<line x1="305.5" y1="44.5" x2="497.5" y2="44.5" stroke="#e2e2e2" stroke-width="1" />
<line x1="305.5" y1="41.5" x2="497.5" y2="41.5" stroke="#e2e2e2" stroke-width="1" />
<line x1="305.5" y1="38.5" x2="497.5" y2="38.5" stroke="#e2e2e2" stroke-width="1" />
<line x1="305.5" y1="36.5" x2="497.5" y2="36.5" stroke="#c8c8c8" stroke-width="1" />
<line x1="323.5" y1="36.5" x2="323.5" y2="136.5" stroke="#e2e2e2" stroke-width="1" />
<line x1="333.5" y1="36.5" x2="333.5" y2="136.5" stroke="#e2e2e2" stroke-width="1" />
<line x1="341.5" y1="36.5" x2="341.5" y2="136.5" stroke="#e2e2e2" stroke-width="1" />
<line x1="347.5" y1="36.5" x2="347.5" y2="136.5" stroke="#e2e2e2" stroke-width="1" />
<line x1="352.5" y1="36.5" x2="352.5" y2="136.5" stroke="#e2e2e2" stroke-width="1" />
<line x1="356.5" y1="36.5" x2="356.5" y2="136.5" stroke="#e2e2e2" stroke-width="1" />
<line x1="359.5" y1="36.5" x2="359.5" y2="136.5" stroke="#e2e2e2" stroke-width="1" />
<line x1="362.5" y1="36.5" x2="362.5" y2="136.5" stroke="#e2e2e2" stroke-width="1" />
<line x1="365.5" y1="36.5" x2="365.5" y2="136.5" stroke="#c8c8c8" stroke-width="1" />
<line x1="384.5" y1="36.5" x2="384.5" y2="136.5" stroke="#e2e2e2" stroke-width="1" />
<line x1="394.5" y1="36.5" x2="394.5" y2="136.5" stroke="#e2e2e2" stroke-width="1" />
<line x1="402.5" y1="36.5" x2="402.5" y2="136.5" stroke="#e2e2e2" stroke-width="1" />
<line x1="408.5" y1="36.5" x2="408.5" y2="136.5" stroke="#e2e2e2" stroke-width="1" />
<line x1="413.5" y1="36.5" x2="413.5" y2="136.5" stroke="#e2e2e2" stroke-width="1" />
<line x1="417.5" y1="36.5" x2="417.5" y2="136.5" stroke="#e2e2e2" stroke-width="1" />
<line x1="420.5" y1="36.5" x2="420.5" y2="136.5" stroke="#e2e2e2" stroke-width="1" />
<line x1="423.5" y1="36.5" x2="423.5" y2="136.5" stroke="#e2e2e2" stroke-width="1" />
<line x1="426.5" y1="36.5" x2="426.5" y2="136.5" stroke="#c8c8c8" stroke-width="1" />
<line x1="444.5" y1="36.5" x2="444.5" y2="136.5" stroke="#e2e2e2" stroke-width="1" />
<line x1="455.5" y1="36.5" x2="455.5" y2="136.5" stroke="#e2e2e2" stroke-width="1" />
<line x1="463.5" y1="36.5" x2="463.5" y2="136.5" stroke="#e2e2e2" stroke-width="1" />
<line x1="469.5" y1="36.5" x2="469.5" y2="136.5" stroke="#e2e2e2" stroke-width="1" />
<line x1="473.5" y1="36.5" x2="473.5" y2="136.5" stroke="#e2e2e2" stroke-width="1" />
<line x1="477.5" y1="36.5" x2="477.5" y2="136.5" stroke="#e2e2e2" stroke-width="1" />
<line x1="481.5" y1="36.5" x2="481.5" y2="136.5" stroke="#e2e2e2" stroke-width="1" />
<line x1="484.5" y1="36.5" x2="484.5" y2="136.5" stroke="#e2e2e2" stroke-width="1" />
<line x1="487.5" y1="36.5" x2="487.5" y2="136.5" stroke="#c8c8c8" stroke-width="1" />
<line x1="497.5" y1="36.5" x2="497.5" y2="136.5" stroke="#d0d0d0" stroke-width="1" />
<line x1="305.5" y1="36.5" x2="305.5" y2="136.5" stroke="#c4c4c4" stroke-width="1" />
<line x1="305.5" y1="136.5" x2="497.5" y2="136.5" stroke="#b8b8b8" stroke-width="1" />
<line x1="303.4" y1="136.9" x2="305" y2="136.9" stroke="#9a9a9a" stroke-width="0.6" />
<line x1="303.4" y1="86.8" x2="305" y2="86.8" stroke="#9a9a9a" stroke-width="0.6" />
<line x1="303.4" y1="36.7" x2="305" y2="36.7" stroke="#9a9a9a" stroke-width="0.6" />
<text x="302.3" y="39.4" font-size="6" text-anchor="end" font-weight="normal" fill="#333" font-family="'Liberation Serif', serif"  stroke="#333" stroke-width="0.22">1,000</text>
<text x="302.3" y="89.5" font-size="6" text-anchor="end" font-weight="normal" fill="#333" font-family="'Liberation Serif', serif"  stroke="#333" stroke-width="0.22">100</text>
<text x="302.3" y="139.6" font-size="6" text-anchor="end" font-weight="normal" fill="#333" font-family="'Liberation Serif', serif"  stroke="#333" stroke-width="0.22">10</text>
<text x="305" y="145.2" font-size="5.8" text-anchor="middle" font-weight="normal" fill="#333" font-family="'Liberation Serif', serif"  stroke="#333" stroke-width="0.22">1</text>
<text x="365.77" y="145.2" font-size="5.8" text-anchor="middle" font-weight="normal" fill="#333" font-family="'Liberation Serif', serif"  stroke="#333" stroke-width="0.22">10</text>
<text x="426.54" y="145.2" font-size="5.8" text-anchor="middle" font-weight="normal" fill="#333" font-family="'Liberation Serif', serif"  stroke="#333" stroke-width="0.22">100</text>
<text x="487.31" y="145.2" font-size="5.8" text-anchor="middle" font-weight="normal" fill="#333" font-family="'Liberation Serif', serif"  stroke="#333" stroke-width="0.22">1,000</text>
<text x="401.5" y="152.6" font-size="6.5" text-anchor="middle" font-weight="normal" fill="#222" font-family="'Liberation Serif', serif"  stroke="#222" stroke-width="0.22">Return period (year)</text>
<text x="282" y="89.4" font-size="6.5" text-anchor="middle" font-weight="normal" fill="#222" font-family="'Liberation Serif', serif" transform="rotate(-90 282 89.4)" stroke="#222" stroke-width="0.22">Rainfall depth (mm)</text>
<text x="404.8" y="19.6" font-size="9" text-anchor="middle" font-weight="bold" fill="#000" font-family="'Liberation Serif', serif"  stroke="#000" stroke-width="0.35" textLength="157.7" lengthAdjust="spacingAndGlyphs">Kg. Melayu Subang Station (No. 3010001)</text>
<polyline points="323.29,128 347.48,121.87 384.06,115.85 408.25,112.76 426.54,110.69 444.83,108.81 469.02,106.56 487.31,105" fill="none" stroke="#948eb4" stroke-width="1.3" stroke-linejoin="round" />
<path d="M323.29,126.31 L324.98,128 L323.29,129.69 L321.6,128Z" fill="#9888b8"/>
<path d="M347.48,120.18 L349.17,121.87 L347.48,123.56 L345.79,121.87Z" fill="#9888b8"/>
<path d="M384.06,114.16 L385.75,115.85 L384.06,117.54 L382.37,115.85Z" fill="#9888b8"/>
<path d="M408.25,111.07 L409.94,112.76 L408.25,114.45 L406.56,112.76Z" fill="#9888b8"/>
<path d="M426.54,109 L428.23,110.69 L426.54,112.38 L424.85,110.69Z" fill="#9888b8"/>
<path d="M444.83,107.12 L446.52,108.81 L444.83,110.5 L443.14,108.81Z" fill="#9888b8"/>
<path d="M469.02,104.87 L470.71,106.56 L469.02,108.25 L467.33,106.56Z" fill="#9888b8"/>
<path d="M487.31,103.31 L489,105 L487.31,106.69 L485.62,105Z" fill="#9888b8"/>
<polyline points="323.29,112 347.48,109.73 384.06,107.1 408.25,105.58 426.54,104.51 444.83,103.49 469.02,102.22 487.31,101.3" fill="none" stroke="#b8d088" stroke-width="1.2" stroke-linejoin="round" />
<polyline points="323.29,103.1 347.48,100.3 384.06,97.13 408.25,95.34 426.54,94.09 444.83,92.91 469.02,91.44 487.31,90.4" fill="none" stroke="#e08888" stroke-width="1.2" stroke-linejoin="round" />
<polyline points="323.29,92.5 347.48,90.53 384.06,88.21 408.25,86.86 426.54,85.9 444.83,84.98 469.02,83.83 487.31,83" fill="none" stroke="#3aa0b8" stroke-width="1.6" stroke-linejoin="round" />
<circle cx="323.29" cy="92.5" r="1.1" fill="#3aa0b8"/>
<circle cx="347.48" cy="90.53" r="1.1" fill="#3aa0b8"/>
<circle cx="384.06" cy="88.21" r="1.1" fill="#3aa0b8"/>
<circle cx="408.25" cy="86.86" r="1.1" fill="#3aa0b8"/>
<circle cx="426.54" cy="85.9" r="1.1" fill="#3aa0b8"/>
<circle cx="444.83" cy="84.98" r="1.1" fill="#3aa0b8"/>
<circle cx="469.02" cy="83.83" r="1.1" fill="#3aa0b8"/>
<circle cx="487.31" cy="83" r="1.1" fill="#3aa0b8"/>
<polyline points="323.29,94.5 347.48,91.7 384.06,88.53 408.25,86.74 426.54,85.49 444.83,84.31 469.02,82.84 487.31,81.8" fill="none" stroke="#6a4c98" stroke-width="1.6" stroke-linejoin="round" />
<polyline points="323.29,90.8 347.48,87.58 384.06,84.01 408.25,82.01 426.54,80.63 444.83,79.33 469.02,77.74 487.31,76.6" fill="none" stroke="#ee8a3c" stroke-width="1.6" stroke-linejoin="round" />
<circle cx="323.29" cy="90.8" r="1.6" fill="#ee8a3c"/>
<circle cx="347.48" cy="87.58" r="1.6" fill="#ee8a3c"/>
<circle cx="384.06" cy="84.01" r="1.6" fill="#ee8a3c"/>
<circle cx="408.25" cy="82.01" r="1.6" fill="#ee8a3c"/>
<circle cx="426.54" cy="80.63" r="1.6" fill="#ee8a3c"/>
<circle cx="444.83" cy="79.33" r="1.6" fill="#ee8a3c"/>
<circle cx="469.02" cy="77.74" r="1.6" fill="#ee8a3c"/>
<circle cx="487.31" cy="76.6" r="1.6" fill="#ee8a3c"/>
<polyline points="323.29,89.2 347.48,85.83 384.06,82.13 408.25,80.06 426.54,78.64 444.83,77.31 469.02,75.66 487.31,74.5" fill="none" stroke="#8fb0d8" stroke-width="1.3" stroke-linejoin="round" />
<polyline points="323.29,87 347.48,83.63 384.06,79.93 408.25,77.86 426.54,76.44 444.83,75.11 469.02,73.46 487.31,72.3" fill="none" stroke="#3f72b0" stroke-width="1.6" stroke-linejoin="round" />
<path d="M323.29,84.92 L325.37,87 L323.29,89.08 L321.21,87Z" fill="#3f72b0"/>
<path d="M347.48,81.55 L349.56,83.63 L347.48,85.71 L345.4,83.63Z" fill="#3f72b0"/>
<path d="M384.06,77.85 L386.14,79.93 L384.06,82.01 L381.98,79.93Z" fill="#3f72b0"/>
<path d="M408.25,75.78 L410.33,77.86 L408.25,79.94 L406.17,77.86Z" fill="#3f72b0"/>
<path d="M426.54,74.36 L428.62,76.44 L426.54,78.52 L424.46,76.44Z" fill="#3f72b0"/>
<path d="M444.83,73.03 L446.91,75.11 L444.83,77.19 L442.75,75.11Z" fill="#3f72b0"/>
<path d="M469.02,71.38 L471.1,73.46 L469.02,75.54 L466.94,73.46Z" fill="#3f72b0"/>
<path d="M487.31,70.22 L489.39,72.3 L487.31,74.38 L485.23,72.3Z" fill="#3f72b0"/>
<polyline points="323.29,82.3 347.48,79.42 384.06,76.17 408.25,74.34 426.54,73.06 444.83,71.86 469.02,70.36 487.31,69.3" fill="none" stroke="#b8403c" stroke-width="1.7" stroke-linejoin="round" />
<rect x="321.39" y="80.4" width="3.8" height="3.8" fill="#b8403c"/>
<rect x="345.58" y="77.52" width="3.8" height="3.8" fill="#b8403c"/>
<rect x="382.16" y="74.27" width="3.8" height="3.8" fill="#b8403c"/>
<rect x="406.35" y="72.44" width="3.8" height="3.8" fill="#b8403c"/>
<rect x="424.64" y="71.16" width="3.8" height="3.8" fill="#b8403c"/>
<rect x="442.93" y="69.96" width="3.8" height="3.8" fill="#b8403c"/>
<rect x="467.12" y="68.46" width="3.8" height="3.8" fill="#b8403c"/>
<rect x="485.41" y="67.4" width="3.8" height="3.8" fill="#b8403c"/>
<polyline points="323.29,76.6 347.48,73.35 384.06,69.75 408.25,67.74 426.54,66.35 444.83,65.05 469.02,63.44 487.31,62.3" fill="none" stroke="#8db04a" stroke-width="1.5" stroke-linejoin="round" />
<path d="M323.29,74.13 L325.57,78.5 L321.01,78.5Z" fill="#8db04a"/>
<path d="M347.48,70.88 L349.76,75.25 L345.2,75.25Z" fill="#8db04a"/>
<path d="M384.06,67.28 L386.34,71.65 L381.78,71.65Z" fill="#8db04a"/>
<path d="M408.25,65.27 L410.53,69.64 L405.97,69.64Z" fill="#8db04a"/>
<path d="M426.54,63.88 L428.82,68.25 L424.26,68.25Z" fill="#8db04a"/>
<path d="M444.83,62.58 L447.11,66.95 L442.55,66.95Z" fill="#8db04a"/>
<path d="M469.02,60.97 L471.3,65.34 L466.74,65.34Z" fill="#8db04a"/>
<path d="M487.31,59.83 L489.59,64.2 L485.03,64.2Z" fill="#8db04a"/>
<line x1="509.7" y1="61" x2="520.2" y2="61" stroke="#8db04a" stroke-width="1.2" />
<path d="M514.95,59.83 L516.03,61.9 L513.87,61.9Z" fill="#8db04a"/>
<text x="521.1" y="62.7" font-size="4.9" text-anchor="start" font-weight="normal" fill="#222" font-family="'Liberation Sans', sans-serif" textLength="11.5" lengthAdjust="spacingAndGlyphs" stroke="#222" stroke-width="0.18">5 days</text>
<line x1="509.7" y1="67.96" x2="520.2" y2="67.96" stroke="#b8403c" stroke-width="1.2" />
<rect x="514.05" y="67.06" width="1.8" height="1.8" fill="#b8403c"/>
<text x="521.1" y="69.66" font-size="4.9" text-anchor="start" font-weight="normal" fill="#222" font-family="'Liberation Sans', sans-serif" textLength="11.5" lengthAdjust="spacingAndGlyphs" stroke="#222" stroke-width="0.18">3 days</text>
<line x1="509.7" y1="74.92" x2="520.2" y2="74.92" stroke="#3f72b0" stroke-width="1.2" />
<path d="M514.95,73.75 L516.12,74.92 L514.95,76.09 L513.78,74.92Z" fill="#3f72b0"/>
<text x="521.1" y="76.62" font-size="4.9" text-anchor="start" font-weight="normal" fill="#222" font-family="'Liberation Sans', sans-serif" textLength="9" lengthAdjust="spacingAndGlyphs" stroke="#222" stroke-width="0.18">1 day</text>
<line x1="509.7" y1="81.88" x2="520.2" y2="81.88" stroke="#8fb0d8" stroke-width="1.0" />
<text x="521.1" y="83.58" font-size="4.9" text-anchor="start" font-weight="normal" fill="#222" font-family="'Liberation Sans', sans-serif" textLength="13.7" lengthAdjust="spacingAndGlyphs" stroke="#222" stroke-width="0.18">4 hours</text>
<line x1="509.7" y1="88.84" x2="520.2" y2="88.84" stroke="#6a4c98" stroke-width="1.2" />
<text x="521.1" y="90.54" font-size="4.9" text-anchor="start" font-weight="normal" fill="#222" font-family="'Liberation Sans', sans-serif" textLength="12" lengthAdjust="spacingAndGlyphs" stroke="#222" stroke-width="0.18">3 hour</text>
<line x1="509.7" y1="95.8" x2="520.2" y2="95.8" stroke="#e08888" stroke-width="1.0" />
<text x="521.1" y="97.5" font-size="4.9" text-anchor="start" font-weight="normal" fill="#222" font-family="'Liberation Sans', sans-serif" textLength="11" lengthAdjust="spacingAndGlyphs" stroke="#222" stroke-width="0.18">30min</text>
<line x1="509.7" y1="102.76" x2="520.2" y2="102.76" stroke="#b8d088" stroke-width="1.0" />
<text x="521.1" y="104.46" font-size="4.9" text-anchor="start" font-weight="normal" fill="#222" font-family="'Liberation Sans', sans-serif" textLength="11" lengthAdjust="spacingAndGlyphs" stroke="#222" stroke-width="0.18">15min</text>
<line x1="509.7" y1="109.72" x2="520.2" y2="109.72" stroke="#948eb4" stroke-width="1.0" />
<path d="M514.95,108.55 L516.12,109.72 L514.95,110.89 L513.78,109.72Z" fill="#948eb4"/>
<text x="521.1" y="111.42" font-size="4.9" text-anchor="start" font-weight="normal" fill="#222" font-family="'Liberation Sans', sans-serif" textLength="9" lengthAdjust="spacingAndGlyphs" stroke="#222" stroke-width="0.18">5min</text>
<line x1="305.5" y1="293.5" x2="497.5" y2="293.5" stroke="#c8c8c8" stroke-width="1" />
<line x1="305.5" y1="283.5" x2="497.5" y2="283.5" stroke="#e2e2e2" stroke-width="1" />
<line x1="305.5" y1="277.5" x2="497.5" y2="277.5" stroke="#e2e2e2" stroke-width="1" />
<line x1="305.5" y1="273.5" x2="497.5" y2="273.5" stroke="#e2e2e2" stroke-width="1" />
<line x1="305.5" y1="269.5" x2="497.5" y2="269.5" stroke="#e2e2e2" stroke-width="1" />
<line x1="305.5" y1="267.5" x2="497.5" y2="267.5" stroke="#e2e2e2" stroke-width="1" />
<line x1="305.5" y1="265.5" x2="497.5" y2="265.5" stroke="#e2e2e2" stroke-width="1" />
<line x1="305.5" y1="263.5" x2="497.5" y2="263.5" stroke="#e2e2e2" stroke-width="1" />
<line x1="305.5" y1="261.5" x2="497.5" y2="261.5" stroke="#e2e2e2" stroke-width="1" />
<line x1="305.5" y1="259.5" x2="497.5" y2="259.5" stroke="#c8c8c8" stroke-width="1" />
<line x1="305.5" y1="249.5" x2="497.5" y2="249.5" stroke="#e2e2e2" stroke-width="1" />
<line x1="305.5" y1="244.5" x2="497.5" y2="244.5" stroke="#e2e2e2" stroke-width="1" />
<line x1="305.5" y1="239.5" x2="497.5" y2="239.5" stroke="#e2e2e2" stroke-width="1" />
<line x1="305.5" y1="236.5" x2="497.5" y2="236.5" stroke="#e2e2e2" stroke-width="1" />
<line x1="305.5" y1="233.5" x2="497.5" y2="233.5" stroke="#e2e2e2" stroke-width="1" />
<line x1="305.5" y1="231.5" x2="497.5" y2="231.5" stroke="#e2e2e2" stroke-width="1" />
<line x1="305.5" y1="229.5" x2="497.5" y2="229.5" stroke="#e2e2e2" stroke-width="1" />
<line x1="305.5" y1="228.5" x2="497.5" y2="228.5" stroke="#e2e2e2" stroke-width="1" />
<line x1="305.5" y1="226.5" x2="497.5" y2="226.5" stroke="#c8c8c8" stroke-width="1" />
<line x1="305.5" y1="216.5" x2="497.5" y2="216.5" stroke="#e2e2e2" stroke-width="1" />
<line x1="305.5" y1="210.5" x2="497.5" y2="210.5" stroke="#e2e2e2" stroke-width="1" />
<line x1="305.5" y1="206.5" x2="497.5" y2="206.5" stroke="#e2e2e2" stroke-width="1" />
<line x1="305.5" y1="203.5" x2="497.5" y2="203.5" stroke="#e2e2e2" stroke-width="1" />
<line x1="305.5" y1="200.5" x2="497.5" y2="200.5" stroke="#e2e2e2" stroke-width="1" />
<line x1="305.5" y1="198.5" x2="497.5" y2="198.5" stroke="#e2e2e2" stroke-width="1" />
<line x1="305.5" y1="196.5" x2="497.5" y2="196.5" stroke="#e2e2e2" stroke-width="1" />
<line x1="305.5" y1="194.5" x2="497.5" y2="194.5" stroke="#e2e2e2" stroke-width="1" />
<line x1="305.5" y1="193.5" x2="497.5" y2="193.5" stroke="#c8c8c8" stroke-width="1" />
<line x1="323.5" y1="193.5" x2="323.5" y2="293.5" stroke="#e2e2e2" stroke-width="1" />
<line x1="333.5" y1="193.5" x2="333.5" y2="293.5" stroke="#e2e2e2" stroke-width="1" />
<line x1="341.5" y1="193.5" x2="341.5" y2="293.5" stroke="#e2e2e2" stroke-width="1" />
<line x1="347.5" y1="193.5" x2="347.5" y2="293.5" stroke="#e2e2e2" stroke-width="1" />
<line x1="352.5" y1="193.5" x2="352.5" y2="293.5" stroke="#e2e2e2" stroke-width="1" />
<line x1="356.5" y1="193.5" x2="356.5" y2="293.5" stroke="#e2e2e2" stroke-width="1" />
<line x1="359.5" y1="193.5" x2="359.5" y2="293.5" stroke="#e2e2e2" stroke-width="1" />
<line x1="362.5" y1="193.5" x2="362.5" y2="293.5" stroke="#e2e2e2" stroke-width="1" />
<line x1="365.5" y1="193.5" x2="365.5" y2="293.5" stroke="#c8c8c8" stroke-width="1" />
<line x1="384.5" y1="193.5" x2="384.5" y2="293.5" stroke="#e2e2e2" stroke-width="1" />
<line x1="394.5" y1="193.5" x2="394.5" y2="293.5" stroke="#e2e2e2" stroke-width="1" />
<line x1="402.5" y1="193.5" x2="402.5" y2="293.5" stroke="#e2e2e2" stroke-width="1" />
<line x1="408.5" y1="193.5" x2="408.5" y2="293.5" stroke="#e2e2e2" stroke-width="1" />
<line x1="413.5" y1="193.5" x2="413.5" y2="293.5" stroke="#e2e2e2" stroke-width="1" />
<line x1="417.5" y1="193.5" x2="417.5" y2="293.5" stroke="#e2e2e2" stroke-width="1" />
<line x1="420.5" y1="193.5" x2="420.5" y2="293.5" stroke="#e2e2e2" stroke-width="1" />
<line x1="423.5" y1="193.5" x2="423.5" y2="293.5" stroke="#e2e2e2" stroke-width="1" />
<line x1="426.5" y1="193.5" x2="426.5" y2="293.5" stroke="#c8c8c8" stroke-width="1" />
<line x1="444.5" y1="193.5" x2="444.5" y2="293.5" stroke="#e2e2e2" stroke-width="1" />
<line x1="455.5" y1="193.5" x2="455.5" y2="293.5" stroke="#e2e2e2" stroke-width="1" />
<line x1="463.5" y1="193.5" x2="463.5" y2="293.5" stroke="#e2e2e2" stroke-width="1" />
<line x1="469.5" y1="193.5" x2="469.5" y2="293.5" stroke="#e2e2e2" stroke-width="1" />
<line x1="473.5" y1="193.5" x2="473.5" y2="293.5" stroke="#e2e2e2" stroke-width="1" />
<line x1="477.5" y1="193.5" x2="477.5" y2="293.5" stroke="#e2e2e2" stroke-width="1" />
<line x1="481.5" y1="193.5" x2="481.5" y2="293.5" stroke="#e2e2e2" stroke-width="1" />
<line x1="484.5" y1="193.5" x2="484.5" y2="293.5" stroke="#e2e2e2" stroke-width="1" />
<line x1="487.5" y1="193.5" x2="487.5" y2="293.5" stroke="#c8c8c8" stroke-width="1" />
<line x1="497.5" y1="193.5" x2="497.5" y2="293.5" stroke="#d0d0d0" stroke-width="1" />
<line x1="305.5" y1="193.5" x2="305.5" y2="293.5" stroke="#c4c4c4" stroke-width="1" />
<line x1="305.5" y1="293.5" x2="497.5" y2="293.5" stroke="#b8b8b8" stroke-width="1" />
<line x1="303.4" y1="293.2" x2="305" y2="293.2" stroke="#9a9a9a" stroke-width="0.6" />
<line x1="303.4" y1="259.9" x2="305" y2="259.9" stroke="#9a9a9a" stroke-width="0.6" />
<line x1="303.4" y1="226.6" x2="305" y2="226.6" stroke="#9a9a9a" stroke-width="0.6" />
<line x1="303.4" y1="193.3" x2="305" y2="193.3" stroke="#9a9a9a" stroke-width="0.6" />
<text x="302.3" y="196" font-size="6" text-anchor="end" font-weight="normal" fill="#333" font-family="'Liberation Serif', serif"  stroke="#333" stroke-width="0.22">10,000</text>
<text x="302.3" y="229.3" font-size="6" text-anchor="end" font-weight="normal" fill="#333" font-family="'Liberation Serif', serif"  stroke="#333" stroke-width="0.22">1,000</text>
<text x="302.3" y="262.6" font-size="6" text-anchor="end" font-weight="normal" fill="#333" font-family="'Liberation Serif', serif"  stroke="#333" stroke-width="0.22">100</text>
<text x="302.3" y="295.9" font-size="6" text-anchor="end" font-weight="normal" fill="#333" font-family="'Liberation Serif', serif"  stroke="#333" stroke-width="0.22">10</text>
<text x="305" y="301.5" font-size="5.8" text-anchor="middle" font-weight="normal" fill="#333" font-family="'Liberation Serif', serif"  stroke="#333" stroke-width="0.22">1</text>
<text x="365.77" y="301.5" font-size="5.8" text-anchor="middle" font-weight="normal" fill="#333" font-family="'Liberation Serif', serif"  stroke="#333" stroke-width="0.22">10</text>
<text x="426.54" y="301.5" font-size="5.8" text-anchor="middle" font-weight="normal" fill="#333" font-family="'Liberation Serif', serif"  stroke="#333" stroke-width="0.22">100</text>
<text x="487.31" y="301.5" font-size="5.8" text-anchor="middle" font-weight="normal" fill="#333" font-family="'Liberation Serif', serif"  stroke="#333" stroke-width="0.22">1,000</text>
<text x="401.5" y="307.8" font-size="6.5" text-anchor="middle" font-weight="normal" fill="#222" font-family="'Liberation Serif', serif"  stroke="#222" stroke-width="0.22">Return period (year)</text>
<text x="282" y="245.5" font-size="6.5" text-anchor="middle" font-weight="normal" fill="#222" font-family="'Liberation Serif', serif" transform="rotate(-90 282 245.5)" stroke="#222" stroke-width="0.22">Rainfall depth (mm)</text>
<text x="407.7" y="174.6" font-size="9" text-anchor="middle" font-weight="bold" fill="#000" font-family="'Liberation Serif', serif"  stroke="#000" stroke-width="0.35" textLength="125.4" lengthAdjust="spacingAndGlyphs">TTDI Jaya Station (No. 3115081)</text>
<polyline points="323.29,254.2 347.48,252.72 384.06,251 408.25,250 426.54,249.3 444.83,248.64 469.02,247.8 487.31,247.2" fill="none" stroke="#948eb4" stroke-width="1.2" stroke-linejoin="round" />
<rect x="322.79" y="252.8" width="1" height="2.8" fill="#9888b8"/>
<rect x="346.98" y="251.32" width="1" height="2.8" fill="#9888b8"/>
<rect x="383.56" y="249.6" width="1" height="2.8" fill="#9888b8"/>
<rect x="407.75" y="248.6" width="1" height="2.8" fill="#9888b8"/>
<rect x="426.04" y="247.9" width="1" height="2.8" fill="#9888b8"/>
<rect x="444.33" y="247.24" width="1" height="2.8" fill="#9888b8"/>
<rect x="468.52" y="246.4" width="1" height="2.8" fill="#9888b8"/>
<rect x="486.81" y="245.8" width="1" height="2.8" fill="#9888b8"/>
<polyline points="323.29,242.9 347.48,241.05 384.06,238.96 408.25,237.77 426.54,236.94 444.83,236.16 469.02,235.19 487.31,234.5" fill="none" stroke="#b8d088" stroke-width="1.1" stroke-linejoin="round" />
<polyline points="323.29,236.4 347.48,234.3 384.06,231.96 408.25,230.66 426.54,229.75 444.83,228.9 469.02,227.85 487.31,227.1" fill="none" stroke="#e08888" stroke-width="1.1" stroke-linejoin="round" />
<polyline points="323.29,232.3 347.48,230.37 384.06,228.19 408.25,226.97 426.54,226.11 444.83,225.31 469.02,224.31 487.31,223.6" fill="none" stroke="#6a4c98" stroke-width="1.5" stroke-linejoin="round" />
<rect x="322.79" y="231" width="1" height="2.6" fill="#6a4c98"/>
<rect x="346.98" y="229.07" width="1" height="2.6" fill="#6a4c98"/>
<rect x="383.56" y="226.89" width="1" height="2.6" fill="#6a4c98"/>
<rect x="407.75" y="225.67" width="1" height="2.6" fill="#6a4c98"/>
<rect x="426.04" y="224.81" width="1" height="2.6" fill="#6a4c98"/>
<rect x="444.33" y="224.01" width="1" height="2.6" fill="#6a4c98"/>
<rect x="468.52" y="223.01" width="1" height="2.6" fill="#6a4c98"/>
<rect x="486.81" y="222.3" width="1" height="2.6" fill="#6a4c98"/>
<polyline points="323.29,230.2 347.48,228.01 384.06,225.59 408.25,224.25 426.54,223.31 444.83,222.44 469.02,221.36 487.31,220.6" fill="none" stroke="#3aa0b8" stroke-width="1.5" stroke-linejoin="round" />
<rect x="322.79" y="228.9" width="1" height="2.6" fill="#3aa0b8"/>
<rect x="346.98" y="226.71" width="1" height="2.6" fill="#3aa0b8"/>
<rect x="383.56" y="224.29" width="1" height="2.6" fill="#3aa0b8"/>
<rect x="407.75" y="222.95" width="1" height="2.6" fill="#3aa0b8"/>
<rect x="426.04" y="222.01" width="1" height="2.6" fill="#3aa0b8"/>
<rect x="444.33" y="221.14" width="1" height="2.6" fill="#3aa0b8"/>
<rect x="468.52" y="220.06" width="1" height="2.6" fill="#3aa0b8"/>
<rect x="486.81" y="219.3" width="1" height="2.6" fill="#3aa0b8"/>
<polyline points="323.29,228.2 347.48,226.21 384.06,223.98 408.25,222.73 426.54,221.86 444.83,221.04 469.02,220.02 487.31,219.3" fill="none" stroke="#ee8a3c" stroke-width="1.5" stroke-linejoin="round" />
<circle cx="323.29" cy="228.2" r="1.4" fill="#ee8a3c"/>
<circle cx="347.48" cy="226.21" r="1.4" fill="#ee8a3c"/>
<circle cx="384.06" cy="223.98" r="1.4" fill="#ee8a3c"/>
<circle cx="408.25" cy="222.73" r="1.4" fill="#ee8a3c"/>
<circle cx="426.54" cy="221.86" r="1.4" fill="#ee8a3c"/>
<circle cx="444.83" cy="221.04" r="1.4" fill="#ee8a3c"/>
<circle cx="469.02" cy="220.02" r="1.4" fill="#ee8a3c"/>
<circle cx="487.31" cy="219.3" r="1.4" fill="#ee8a3c"/>
<polyline points="323.29,223 347.48,215.97 384.06,210.12 408.25,207.35 426.54,205.57 444.83,204 469.02,202.15 487.31,200.9" fill="none" stroke="#3f72b0" stroke-width="1.5" stroke-linejoin="round" />
<path d="M323.29,220.92 L325.37,223 L323.29,225.08 L321.21,223Z" fill="#3f72b0"/>
<path d="M347.48,213.89 L349.56,215.97 L347.48,218.05 L345.4,215.97Z" fill="#3f72b0"/>
<path d="M384.06,208.04 L386.14,210.12 L384.06,212.2 L381.98,210.12Z" fill="#3f72b0"/>
<path d="M408.25,205.27 L410.33,207.35 L408.25,209.43 L406.17,207.35Z" fill="#3f72b0"/>
<path d="M426.54,203.49 L428.62,205.57 L426.54,207.65 L424.46,205.57Z" fill="#3f72b0"/>
<path d="M444.83,201.92 L446.91,204 L444.83,206.08 L442.75,204Z" fill="#3f72b0"/>
<path d="M469.02,200.07 L471.1,202.15 L469.02,204.23 L466.94,202.15Z" fill="#3f72b0"/>
<path d="M487.31,198.82 L489.39,200.9 L487.31,202.98 L485.23,200.9Z" fill="#3f72b0"/>
<polyline points="323.29,216.9 347.48,211.57 384.06,206.71 408.25,204.31 426.54,202.74 444.83,201.32 469.02,199.65 487.31,198.5" fill="none" stroke="#8db04a" stroke-width="1.5" stroke-linejoin="round" />
<path d="M323.29,214.82 L325.21,218.5 L321.37,218.5Z" fill="#8db04a"/>
<path d="M347.48,209.49 L349.4,213.17 L345.56,213.17Z" fill="#8db04a"/>
<path d="M384.06,204.63 L385.98,208.31 L382.14,208.31Z" fill="#8db04a"/>
<path d="M408.25,202.23 L410.17,205.91 L406.33,205.91Z" fill="#8db04a"/>
<path d="M426.54,200.66 L428.46,204.34 L424.62,204.34Z" fill="#8db04a"/>
<path d="M444.83,199.24 L446.75,202.92 L442.91,202.92Z" fill="#8db04a"/>
<path d="M469.02,197.57 L470.94,201.25 L467.1,201.25Z" fill="#8db04a"/>
<path d="M487.31,196.42 L489.23,200.1 L485.39,200.1Z" fill="#8db04a"/>
<polyline points="323.29,218 347.48,212.37 384.06,207.32 408.25,204.84 426.54,203.23 444.83,201.78 469.02,200.07 487.31,198.9" fill="none" stroke="#b8403c" stroke-width="1.6" stroke-linejoin="round" />
<rect x="321.59" y="216.3" width="3.4" height="3.4" fill="#b8403c"/>
<rect x="345.78" y="210.67" width="3.4" height="3.4" fill="#b8403c"/>
<rect x="382.36" y="205.62" width="3.4" height="3.4" fill="#b8403c"/>
<rect x="406.55" y="203.14" width="3.4" height="3.4" fill="#b8403c"/>
<rect x="424.84" y="201.53" width="3.4" height="3.4" fill="#b8403c"/>
<rect x="443.13" y="200.08" width="3.4" height="3.4" fill="#b8403c"/>
<rect x="467.32" y="198.37" width="3.4" height="3.4" fill="#b8403c"/>
<rect x="485.61" y="197.2" width="3.4" height="3.4" fill="#b8403c"/>
<line x1="512.6" y1="217.3" x2="520.6" y2="217.3" stroke="#8db04a" stroke-width="1.1" />
<path d="M516.6,216.13 L517.68,218.2 L515.52,218.2Z" fill="#8db04a"/>
<text x="521.5" y="219" font-size="4.6" text-anchor="start" font-weight="normal" fill="#222" font-family="'Liberation Sans', sans-serif" textLength="8.7" lengthAdjust="spacingAndGlyphs" stroke="#222" stroke-width="0.18">5 days</text>
<line x1="512.6" y1="224.33" x2="520.6" y2="224.33" stroke="#b8403c" stroke-width="1.1" />
<rect x="515.7" y="223.43" width="1.8" height="1.8" fill="#b8403c"/>
<text x="521.5" y="226.03" font-size="4.6" text-anchor="start" font-weight="normal" fill="#222" font-family="'Liberation Sans', sans-serif" textLength="8.7" lengthAdjust="spacingAndGlyphs" stroke="#222" stroke-width="0.18">3 days</text>
<line x1="512.6" y1="231.36" x2="520.6" y2="231.36" stroke="#3f72b0" stroke-width="1.1" />
<path d="M516.6,230.19 L517.77,231.36 L516.6,232.53 L515.43,231.36Z" fill="#3f72b0"/>
<text x="521.5" y="233.06" font-size="4.6" text-anchor="start" font-weight="normal" fill="#222" font-family="'Liberation Sans', sans-serif" textLength="7" lengthAdjust="spacingAndGlyphs" stroke="#222" stroke-width="0.18">1 day</text>
<line x1="512.6" y1="238.39" x2="520.6" y2="238.39" stroke="#60b0d0" stroke-width="0.9" />
<text x="521.5" y="240.09" font-size="4.6" text-anchor="start" font-weight="normal" fill="#222" font-family="'Liberation Sans', sans-serif" textLength="10.1" lengthAdjust="spacingAndGlyphs" stroke="#222" stroke-width="0.18">4 hours</text>
<line x1="512.6" y1="245.42" x2="520.6" y2="245.42" stroke="#6a4c98" stroke-width="1.1" />
<text x="521.5" y="247.12" font-size="4.6" text-anchor="start" font-weight="normal" fill="#222" font-family="'Liberation Sans', sans-serif" textLength="9" lengthAdjust="spacingAndGlyphs" stroke="#222" stroke-width="0.18">3 hour</text>
<line x1="512.6" y1="252.45" x2="520.6" y2="252.45" stroke="#b09070" stroke-width="0.9" />
<text x="521.5" y="254.15" font-size="4.6" text-anchor="start" font-weight="normal" fill="#222" font-family="'Liberation Sans', sans-serif" textLength="8.3" lengthAdjust="spacingAndGlyphs" stroke="#222" stroke-width="0.18">30min</text>
<line x1="512.6" y1="259.48" x2="520.6" y2="259.48" stroke="#b8d088" stroke-width="0.9" />
<text x="521.5" y="261.18" font-size="4.6" text-anchor="start" font-weight="normal" fill="#222" font-family="'Liberation Sans', sans-serif" textLength="8.3" lengthAdjust="spacingAndGlyphs" stroke="#222" stroke-width="0.18">15min</text>
<line x1="512.6" y1="266.51" x2="520.6" y2="266.51" stroke="#948eb4" stroke-width="0.9" />
<rect x="516.1" y="265.61" width="1" height="1.8" fill="#948eb4"/>
<text x="521.5" y="268.21" font-size="4.6" text-anchor="start" font-weight="normal" fill="#222" font-family="'Liberation Sans', sans-serif" textLength="7" lengthAdjust="spacingAndGlyphs" stroke="#222" stroke-width="0.18">5min</text>
<line x1="305.5" y1="450.5" x2="497.5" y2="450.5" stroke="#c8c8c8" stroke-width="1" />
<line x1="305.5" y1="439.5" x2="497.5" y2="439.5" stroke="#e2e2e2" stroke-width="1" />
<line x1="305.5" y1="434.5" x2="497.5" y2="434.5" stroke="#e2e2e2" stroke-width="1" />
<line x1="305.5" y1="429.5" x2="497.5" y2="429.5" stroke="#e2e2e2" stroke-width="1" />
<line x1="305.5" y1="426.5" x2="497.5" y2="426.5" stroke="#e2e2e2" stroke-width="1" />
<line x1="305.5" y1="424.5" x2="497.5" y2="424.5" stroke="#e2e2e2" stroke-width="1" />
<line x1="305.5" y1="421.5" x2="497.5" y2="421.5" stroke="#e2e2e2" stroke-width="1" />
<line x1="305.5" y1="419.5" x2="497.5" y2="419.5" stroke="#e2e2e2" stroke-width="1" />
<line x1="305.5" y1="418.5" x2="497.5" y2="418.5" stroke="#e2e2e2" stroke-width="1" />
<line x1="305.5" y1="416.5" x2="497.5" y2="416.5" stroke="#c8c8c8" stroke-width="1" />
<line x1="305.5" y1="406.5" x2="497.5" y2="406.5" stroke="#e2e2e2" stroke-width="1" />
<line x1="305.5" y1="400.5" x2="497.5" y2="400.5" stroke="#e2e2e2" stroke-width="1" />
<line x1="305.5" y1="396.5" x2="497.5" y2="396.5" stroke="#e2e2e2" stroke-width="1" />
<line x1="305.5" y1="393.5" x2="497.5" y2="393.5" stroke="#e2e2e2" stroke-width="1" />
<line x1="305.5" y1="390.5" x2="497.5" y2="390.5" stroke="#e2e2e2" stroke-width="1" />
<line x1="305.5" y1="388.5" x2="497.5" y2="388.5" stroke="#e2e2e2" stroke-width="1" />
<line x1="305.5" y1="386.5" x2="497.5" y2="386.5" stroke="#e2e2e2" stroke-width="1" />
<line x1="305.5" y1="384.5" x2="497.5" y2="384.5" stroke="#e2e2e2" stroke-width="1" />
<line x1="305.5" y1="383.5" x2="497.5" y2="383.5" stroke="#c8c8c8" stroke-width="1" />
<line x1="305.5" y1="373.5" x2="497.5" y2="373.5" stroke="#e2e2e2" stroke-width="1" />
<line x1="305.5" y1="367.5" x2="497.5" y2="367.5" stroke="#e2e2e2" stroke-width="1" />
<line x1="305.5" y1="363.5" x2="497.5" y2="363.5" stroke="#e2e2e2" stroke-width="1" />
<line x1="305.5" y1="359.5" x2="497.5" y2="359.5" stroke="#e2e2e2" stroke-width="1" />
<line x1="305.5" y1="357.5" x2="497.5" y2="357.5" stroke="#e2e2e2" stroke-width="1" />
<line x1="305.5" y1="354.5" x2="497.5" y2="354.5" stroke="#e2e2e2" stroke-width="1" />
<line x1="305.5" y1="353.5" x2="497.5" y2="353.5" stroke="#e2e2e2" stroke-width="1" />
<line x1="305.5" y1="351.5" x2="497.5" y2="351.5" stroke="#e2e2e2" stroke-width="1" />
<line x1="305.5" y1="349.5" x2="497.5" y2="349.5" stroke="#c8c8c8" stroke-width="1" />
<line x1="323.5" y1="349.5" x2="323.5" y2="450.5" stroke="#e2e2e2" stroke-width="1" />
<line x1="333.5" y1="349.5" x2="333.5" y2="450.5" stroke="#e2e2e2" stroke-width="1" />
<line x1="341.5" y1="349.5" x2="341.5" y2="450.5" stroke="#e2e2e2" stroke-width="1" />
<line x1="347.5" y1="349.5" x2="347.5" y2="450.5" stroke="#e2e2e2" stroke-width="1" />
<line x1="352.5" y1="349.5" x2="352.5" y2="450.5" stroke="#e2e2e2" stroke-width="1" />
<line x1="356.5" y1="349.5" x2="356.5" y2="450.5" stroke="#e2e2e2" stroke-width="1" />
<line x1="359.5" y1="349.5" x2="359.5" y2="450.5" stroke="#e2e2e2" stroke-width="1" />
<line x1="362.5" y1="349.5" x2="362.5" y2="450.5" stroke="#e2e2e2" stroke-width="1" />
<line x1="365.5" y1="349.5" x2="365.5" y2="450.5" stroke="#c8c8c8" stroke-width="1" />
<line x1="384.5" y1="349.5" x2="384.5" y2="450.5" stroke="#e2e2e2" stroke-width="1" />
<line x1="394.5" y1="349.5" x2="394.5" y2="450.5" stroke="#e2e2e2" stroke-width="1" />
<line x1="402.5" y1="349.5" x2="402.5" y2="450.5" stroke="#e2e2e2" stroke-width="1" />
<line x1="408.5" y1="349.5" x2="408.5" y2="450.5" stroke="#e2e2e2" stroke-width="1" />
<line x1="413.5" y1="349.5" x2="413.5" y2="450.5" stroke="#e2e2e2" stroke-width="1" />
<line x1="417.5" y1="349.5" x2="417.5" y2="450.5" stroke="#e2e2e2" stroke-width="1" />
<line x1="420.5" y1="349.5" x2="420.5" y2="450.5" stroke="#e2e2e2" stroke-width="1" />
<line x1="423.5" y1="349.5" x2="423.5" y2="450.5" stroke="#e2e2e2" stroke-width="1" />
<line x1="426.5" y1="349.5" x2="426.5" y2="450.5" stroke="#c8c8c8" stroke-width="1" />
<line x1="444.5" y1="349.5" x2="444.5" y2="450.5" stroke="#e2e2e2" stroke-width="1" />
<line x1="455.5" y1="349.5" x2="455.5" y2="450.5" stroke="#e2e2e2" stroke-width="1" />
<line x1="463.5" y1="349.5" x2="463.5" y2="450.5" stroke="#e2e2e2" stroke-width="1" />
<line x1="469.5" y1="349.5" x2="469.5" y2="450.5" stroke="#e2e2e2" stroke-width="1" />
<line x1="473.5" y1="349.5" x2="473.5" y2="450.5" stroke="#e2e2e2" stroke-width="1" />
<line x1="477.5" y1="349.5" x2="477.5" y2="450.5" stroke="#e2e2e2" stroke-width="1" />
<line x1="481.5" y1="349.5" x2="481.5" y2="450.5" stroke="#e2e2e2" stroke-width="1" />
<line x1="484.5" y1="349.5" x2="484.5" y2="450.5" stroke="#e2e2e2" stroke-width="1" />
<line x1="487.5" y1="349.5" x2="487.5" y2="450.5" stroke="#c8c8c8" stroke-width="1" />
<line x1="497.5" y1="349.5" x2="497.5" y2="450.5" stroke="#d0d0d0" stroke-width="1" />
<line x1="304.5" y1="349.5" x2="304.5" y2="450.5" stroke="#c4c4c4" stroke-width="1" />
<line x1="304.5" y1="450.5" x2="497.5" y2="450.5" stroke="#b8b8b8" stroke-width="1" />
<line x1="302.6" y1="450" x2="304.2" y2="450" stroke="#9a9a9a" stroke-width="0.6" />
<line x1="302.6" y1="416.6" x2="304.2" y2="416.6" stroke="#9a9a9a" stroke-width="0.6" />
<line x1="302.6" y1="383.2" x2="304.2" y2="383.2" stroke="#9a9a9a" stroke-width="0.6" />
<line x1="302.6" y1="349.8" x2="304.2" y2="349.8" stroke="#9a9a9a" stroke-width="0.6" />
<text x="301.3" y="352.5" font-size="6" text-anchor="end" font-weight="normal" fill="#333" font-family="'Liberation Serif', serif"  stroke="#333" stroke-width="0.22">1,000</text>
<text x="301.3" y="385.9" font-size="6" text-anchor="end" font-weight="normal" fill="#333" font-family="'Liberation Serif', serif"  stroke="#333" stroke-width="0.22">100</text>
<text x="301.3" y="419.3" font-size="6" text-anchor="end" font-weight="normal" fill="#333" font-family="'Liberation Serif', serif"  stroke="#333" stroke-width="0.22">10</text>
<text x="301.3" y="452.7" font-size="6" text-anchor="end" font-weight="normal" fill="#333" font-family="'Liberation Serif', serif"  stroke="#333" stroke-width="0.22">1</text>
<text x="305" y="458.3" font-size="5.8" text-anchor="middle" font-weight="normal" fill="#333" font-family="'Liberation Serif', serif"  stroke="#333" stroke-width="0.22">1</text>
<text x="365.77" y="458.3" font-size="5.8" text-anchor="middle" font-weight="normal" fill="#333" font-family="'Liberation Serif', serif"  stroke="#333" stroke-width="0.22">10</text>
<text x="426.54" y="458.3" font-size="5.8" text-anchor="middle" font-weight="normal" fill="#333" font-family="'Liberation Serif', serif"  stroke="#333" stroke-width="0.22">100</text>
<text x="487.31" y="458.3" font-size="5.8" text-anchor="middle" font-weight="normal" fill="#333" font-family="'Liberation Serif', serif"  stroke="#333" stroke-width="0.22">1,000</text>
<text x="401.5" y="466.4" font-size="6.5" text-anchor="middle" font-weight="normal" fill="#222" font-family="'Liberation Serif', serif"  stroke="#222" stroke-width="0.22">Return period (year)</text>
<text x="282" y="402.3" font-size="6.5" text-anchor="middle" font-weight="normal" fill="#222" font-family="'Liberation Serif', serif" transform="rotate(-90 282 402.3)" stroke="#222" stroke-width="0.22">Rainfall depth (mm)</text>
<text x="405.6" y="331.6" font-size="9" text-anchor="middle" font-weight="bold" fill="#000" font-family="'Liberation Serif', serif"  stroke="#000" stroke-width="0.35" textLength="144.9" lengthAdjust="spacingAndGlyphs">Taman Mayang Station (No. 3115082)</text>
<polyline points="323.29,407.5 347.48,399.58 384.06,393.26 408.25,390.33 426.54,388.46 444.83,386.82 469.02,384.9 487.31,383.6" fill="none" stroke="#948eb4" stroke-width="1.2" stroke-linejoin="round" />
<rect x="322.79" y="406.1" width="1" height="2.8" fill="#8878b0"/>
<rect x="346.98" y="398.18" width="1" height="2.8" fill="#8878b0"/>
<rect x="383.56" y="391.86" width="1" height="2.8" fill="#8878b0"/>
<rect x="407.75" y="388.93" width="1" height="2.8" fill="#8878b0"/>
<rect x="426.04" y="387.06" width="1" height="2.8" fill="#8878b0"/>
<rect x="444.33" y="385.42" width="1" height="2.8" fill="#8878b0"/>
<rect x="468.52" y="383.5" width="1" height="2.8" fill="#8878b0"/>
<rect x="486.81" y="382.2" width="1" height="2.8" fill="#8878b0"/>
<polyline points="323.29,395.8 347.48,389.17 384.06,383.53 408.25,380.83 426.54,379.09 444.83,377.55 469.02,375.74 487.31,374.5" fill="none" stroke="#b8d088" stroke-width="1.1" stroke-linejoin="round" />
<polyline points="323.29,389 347.48,382.47 384.06,376.88 408.25,374.2 426.54,372.47 444.83,370.94 469.02,369.13 487.31,367.9" fill="none" stroke="#c8a080" stroke-width="1.1" stroke-linejoin="round" />
<polyline points="323.29,384.6 347.48,378.11 384.06,372.55 408.25,369.88 426.54,368.16 444.83,366.63 469.02,364.83 487.31,363.6" fill="none" stroke="#4a4488" stroke-width="1.4" stroke-linejoin="round" />
<rect x="322.79" y="383.3" width="1" height="2.6" fill="#4a4488"/>
<rect x="346.98" y="376.81" width="1" height="2.6" fill="#4a4488"/>
<rect x="383.56" y="371.25" width="1" height="2.6" fill="#4a4488"/>
<rect x="407.75" y="368.58" width="1" height="2.6" fill="#4a4488"/>
<rect x="426.04" y="366.86" width="1" height="2.6" fill="#4a4488"/>
<rect x="444.33" y="365.33" width="1" height="2.6" fill="#4a4488"/>
<rect x="468.52" y="363.53" width="1" height="2.6" fill="#4a4488"/>
<rect x="486.81" y="362.3" width="1" height="2.6" fill="#4a4488"/>
<polyline points="323.29,382.5 347.48,373.44 384.06,366.6 408.25,363.5 426.54,361.55 444.83,359.83 469.02,357.84 487.31,356.5" fill="none" stroke="#9aaad0" stroke-width="1.4" stroke-linejoin="round" />
<rect x="322.79" y="381.3" width="1" height="2.4" fill="#8090c0"/>
<rect x="346.98" y="372.24" width="1" height="2.4" fill="#8090c0"/>
<rect x="383.56" y="365.4" width="1" height="2.4" fill="#8090c0"/>
<rect x="407.75" y="362.3" width="1" height="2.4" fill="#8090c0"/>
<rect x="426.04" y="360.35" width="1" height="2.4" fill="#8090c0"/>
<rect x="444.33" y="358.63" width="1" height="2.4" fill="#8090c0"/>
<rect x="468.52" y="356.64" width="1" height="2.4" fill="#8090c0"/>
<rect x="486.81" y="355.3" width="1" height="2.4" fill="#8090c0"/>
<polyline points="323.29,381.3 347.48,371.96 384.06,365 408.25,361.86 426.54,359.89 444.83,358.16 469.02,356.15 487.31,354.8" fill="none" stroke="#8a9840" stroke-width="1.9" stroke-linejoin="round" />
<rect x="322.79" y="379.7" width="1" height="3.2" fill="#707a30"/>
<rect x="346.98" y="370.36" width="1" height="3.2" fill="#707a30"/>
<rect x="383.56" y="363.4" width="1" height="3.2" fill="#707a30"/>
<rect x="407.75" y="360.26" width="1" height="3.2" fill="#707a30"/>
<rect x="426.04" y="358.29" width="1" height="3.2" fill="#707a30"/>
<rect x="444.33" y="356.56" width="1" height="3.2" fill="#707a30"/>
<rect x="468.52" y="354.55" width="1" height="3.2" fill="#707a30"/>
<rect x="486.81" y="353.2" width="1" height="3.2" fill="#707a30"/>
<line x1="512.2" y1="384.3" x2="519.9" y2="384.3" stroke="#9aaad0" stroke-width="0.9" />
<text x="520.8" y="386" font-size="4.9" text-anchor="start" font-weight="normal" fill="#222" font-family="'Liberation Sans', sans-serif" textLength="10.6" lengthAdjust="spacingAndGlyphs" stroke="#222" stroke-width="0.18">4 hours</text>
<line x1="512.2" y1="393.68" x2="519.9" y2="393.68" stroke="#3c3c78" stroke-width="1.1" />
<text x="520.8" y="395.38" font-size="4.9" text-anchor="start" font-weight="normal" fill="#222" font-family="'Liberation Sans', sans-serif" textLength="8.7" lengthAdjust="spacingAndGlyphs" stroke="#222" stroke-width="0.18">12 hour</text>
<line x1="512.2" y1="403.06" x2="519.9" y2="403.06" stroke="#c8a080" stroke-width="0.9" />
<text x="520.8" y="404.76" font-size="4.9" text-anchor="start" font-weight="normal" fill="#222" font-family="'Liberation Sans', sans-serif" textLength="8.7" lengthAdjust="spacingAndGlyphs" stroke="#222" stroke-width="0.18">30min</text>
<line x1="512.2" y1="412.44" x2="519.9" y2="412.44" stroke="#b8d088" stroke-width="0.9" />
<text x="520.8" y="414.14" font-size="4.9" text-anchor="start" font-weight="normal" fill="#222" font-family="'Liberation Sans', sans-serif" textLength="8.7" lengthAdjust="spacingAndGlyphs" stroke="#222" stroke-width="0.18">15min</text>
<line x1="512.2" y1="421.82" x2="519.9" y2="421.82" stroke="#948eb4" stroke-width="0.9" />
<rect x="515.55" y="420.92" width="1" height="1.8" fill="#948eb4"/>
<text x="520.8" y="423.52" font-size="4.9" text-anchor="start" font-weight="normal" fill="#222" font-family="'Liberation Sans', sans-serif" textLength="6.9" lengthAdjust="spacingAndGlyphs" stroke="#222" stroke-width="0.18">5min</text>
<line x1="272.4" y1="5.7" x2="545.5" y2="5.7" stroke="#a8a8a8" stroke-width="1.0" />
<line x1="272.4" y1="5.2" x2="272.4" y2="162" stroke="#a0a0a0" stroke-width="1.0" />
<line x1="272" y1="162" x2="272" y2="474.3" stroke="#c8c8c8" stroke-width="1.2" />
<line x1="545.6" y1="5.2" x2="545.6" y2="474.3" stroke="#a8a8a8" stroke-width="1.0" />
<line x1="272" y1="162" x2="545.6" y2="162" stroke="#888" stroke-width="1.6" />
<line x1="272" y1="318" x2="545.6" y2="318" stroke="#a0a0a0" stroke-width="1.3" />
<line x1="272" y1="474.2" x2="545.6" y2="474.2" stroke="#b0b0b0" stroke-width="1.3" />
<text x="133.5" y="483.5" font-size="10" text-anchor="middle" font-weight="normal" fill="#000" font-family="'Liberation Serif', serif"  stroke="#000" stroke-width="0.22">(a)</text>
<text x="410.1" y="483.5" font-size="10" text-anchor="middle" font-weight="normal" fill="#000" font-family="'Liberation Serif', serif"  stroke="#000" stroke-width="0.22">(b)</text>
</g></svg>
</div></body></html>
